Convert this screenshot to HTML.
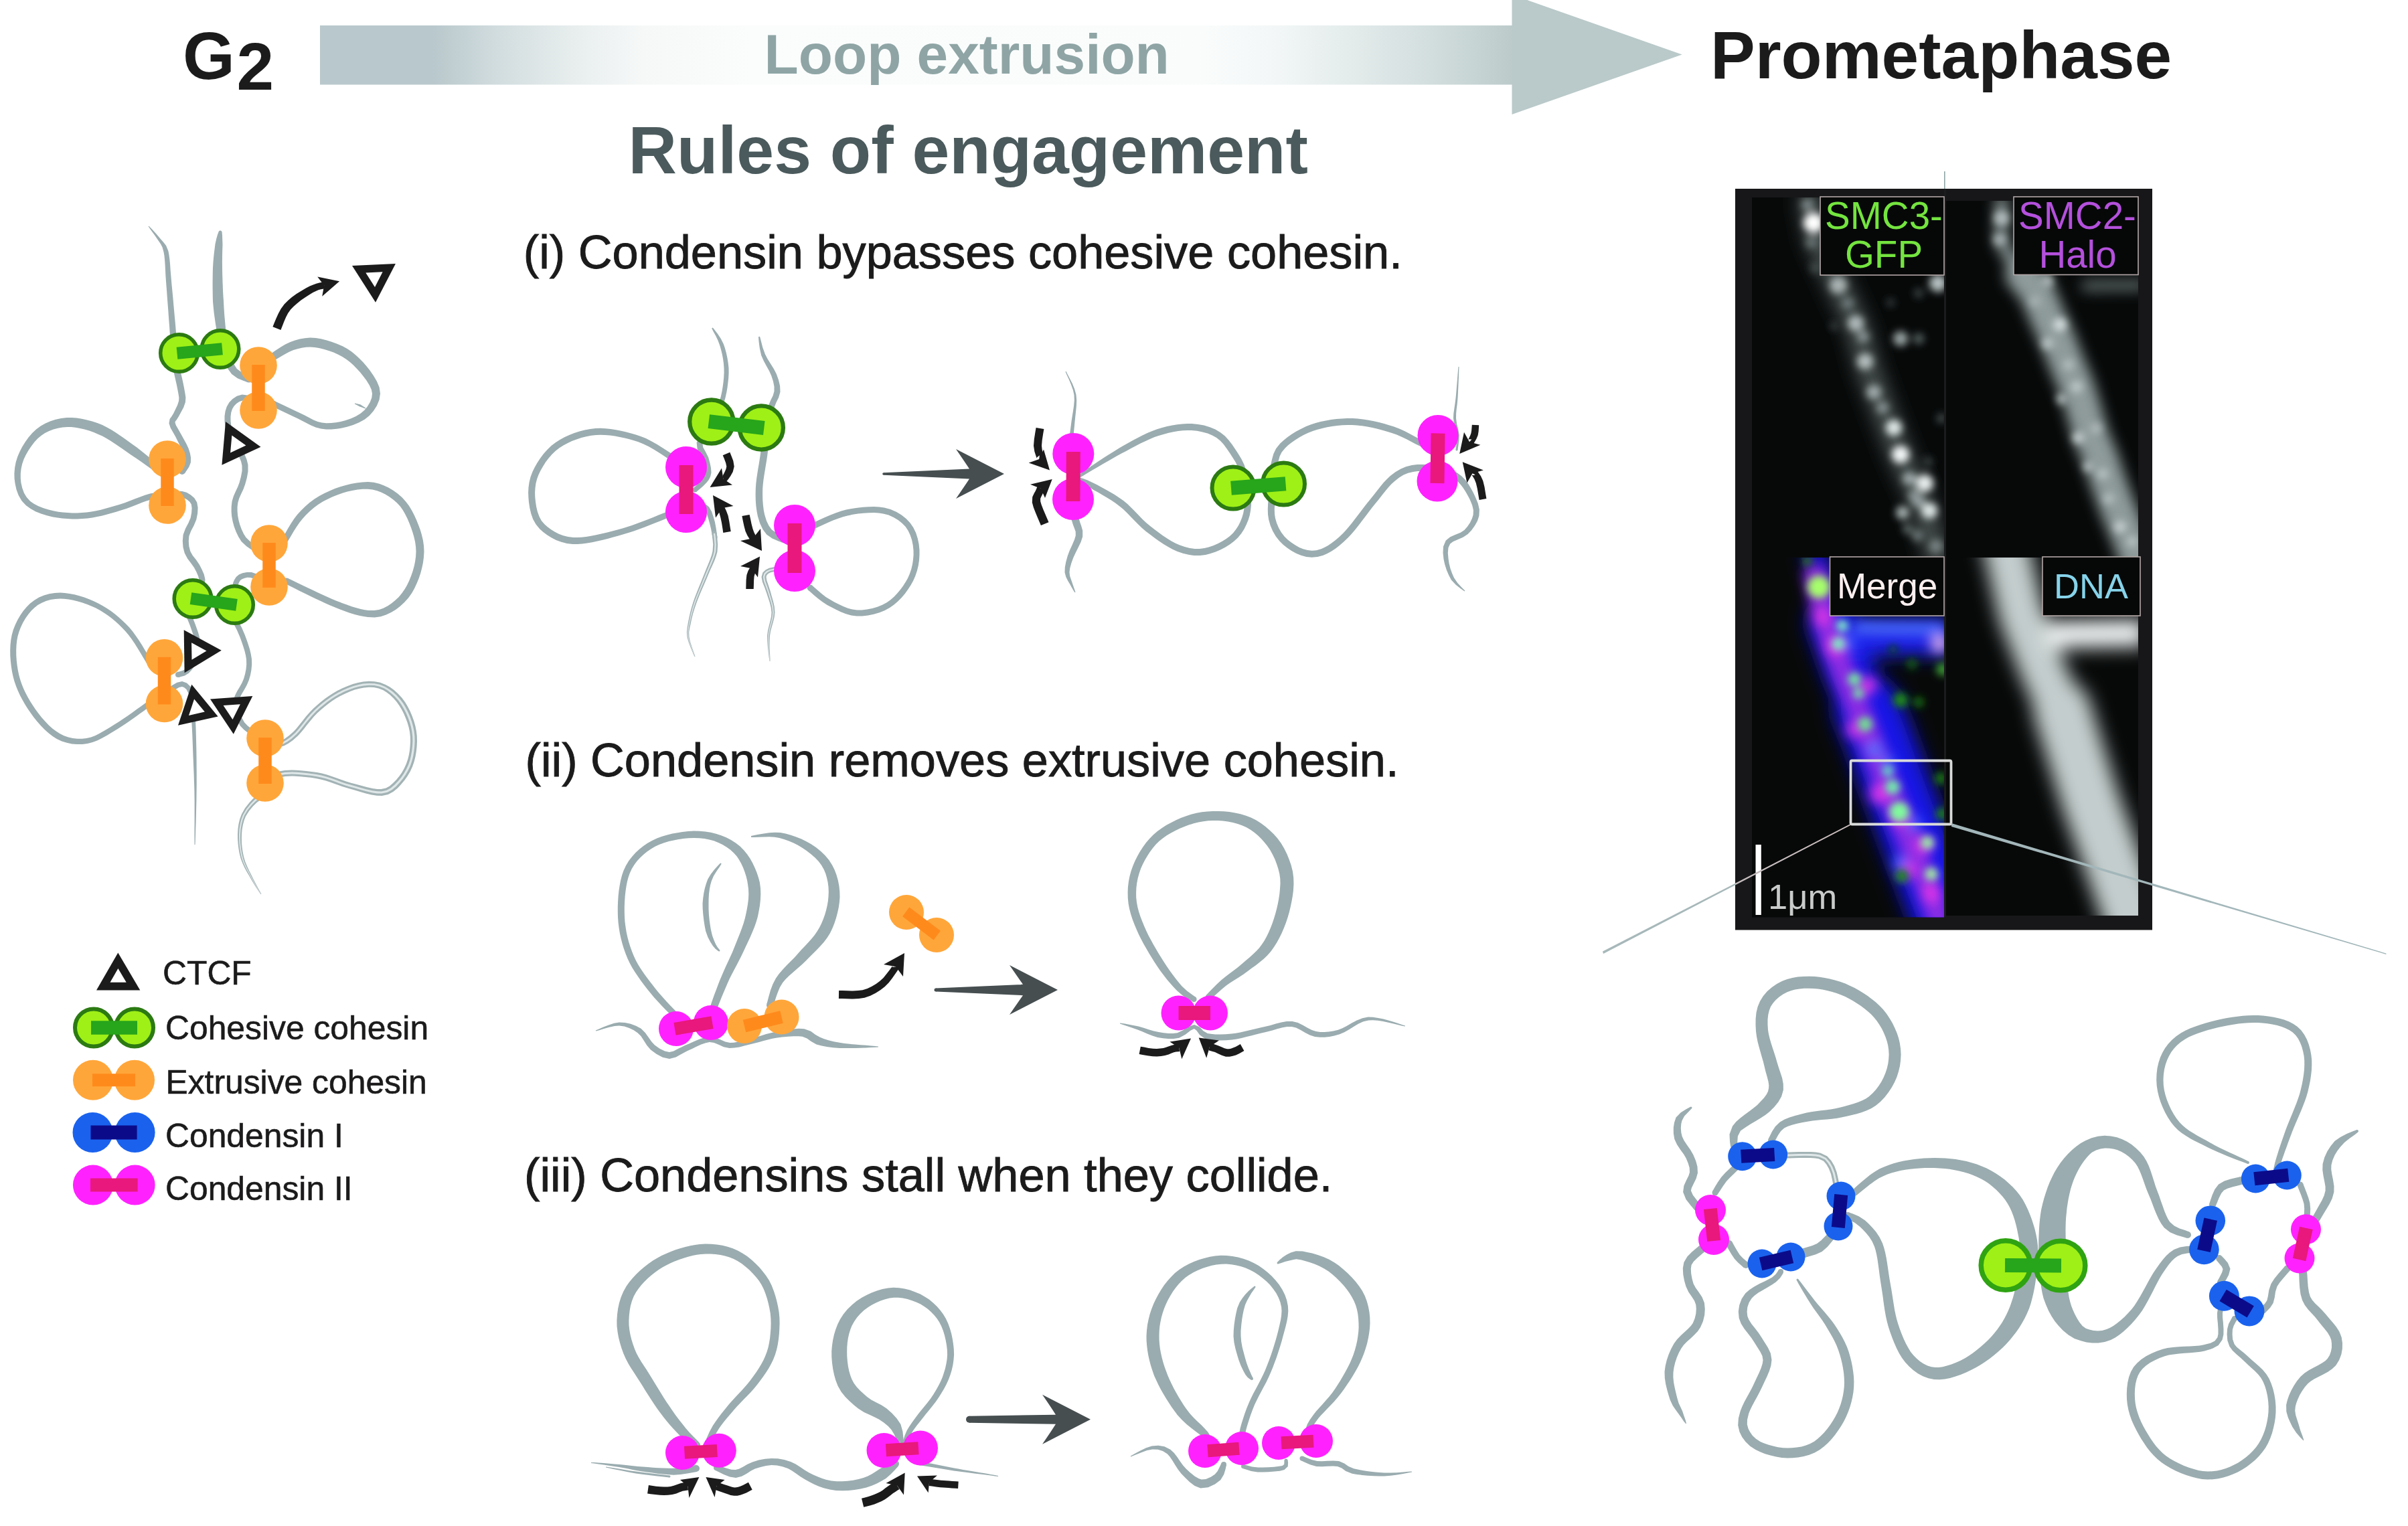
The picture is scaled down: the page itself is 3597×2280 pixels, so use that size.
<!DOCTYPE html>
<html><head><meta charset="utf-8"><title>Loop extrusion</title>
<style>html,body{margin:0;padding:0;background:#fff;overflow:hidden}svg{display:block}text{font-family:"Liberation Sans",sans-serif}</style>
</head><body>
<svg width="3597" height="2280" viewBox="0 0 3597 2280">
<rect width="3597" height="2280" fill="#fff"/>
<defs>
<linearGradient id="barg" x1="478" x2="2259" y1="0" y2="0" gradientUnits="userSpaceOnUse">
<stop offset="0" stop-color="#b9c8cc"/><stop offset="0.095" stop-color="#b9c8cc"/>
<stop offset="0.15" stop-color="#d2dddf"/><stop offset="0.21" stop-color="#e7eded"/><stop offset="0.27" stop-color="#f6f8f8"/>
<stop offset="0.36" stop-color="#fbfcfc"/><stop offset="0.742" stop-color="#fafcfc"/>
<stop offset="0.798" stop-color="#f3f7f7"/><stop offset="0.855" stop-color="#e6eded"/><stop offset="0.911" stop-color="#d8e2e2"/><stop offset="0.967" stop-color="#c8d5d5"/><stop offset="1" stop-color="#bccaca"/>
</linearGradient></defs>
<rect x="478" y="38" width="1782" height="88.5" fill="url(#barg)"/>
<polygon points="2258.5,-8 2512.6,81.4 2258.5,171" fill="#bac9c9"/>
<text x="273" y="118" font-size="100" font-weight="bold" fill="#1c1b1c" text-anchor="start" >G</text>
<text x="353.5" y="134" font-size="100" font-weight="bold" fill="#1c1b1c" text-anchor="start" >2</text>
<text x="1141.6" y="110" font-size="83.8" font-weight="bold" fill="#8fa5a5" text-anchor="start" >Loop extrusion</text>
<text x="938.6" y="259" font-size="100.4" font-weight="bold" fill="#4b5a5c" text-anchor="start" >Rules of engagement</text>
<text x="2555" y="117" font-size="100" font-weight="bold" fill="#1c1b1c" text-anchor="start" >Prometaphase</text>
<text x="781.8" y="401" font-size="70.3" font-weight="normal" fill="#1c1b1c" text-anchor="start" stroke="#1c1b1c" stroke-width="0.9">(i) Condensin bypasses cohesive cohesin.</text>
<text x="784.5" y="1160" font-size="70.3" font-weight="normal" fill="#1c1b1c" text-anchor="start" stroke="#1c1b1c" stroke-width="0.9">(ii) Condensin removes extrusive cohesin.</text>
<text x="783" y="1780" font-size="70.3" font-weight="normal" fill="#1c1b1c" text-anchor="start" stroke="#1c1b1c" stroke-width="0.9">(iii) Condensins stall when they collide.</text>
<path d="M221.6 338.3L225.6 343.9L231.3 351.7L236.4 359.2L240 364.6L242.6 369.4L244.6 376.9L245.5 382.2L246.1 388.5L246.6 395.6L247 403.4L247.4 411.7L248 420.3L248.5 427.1L249.1 434.2L249.6 441.7L250.2 449.4L250.8 457.2L251.4 465L251.9 472.8L252.5 480.4L253.1 488L253.6 495.8L254.1 503.7L254.6 511.6L255.1 519.4L255.7 526.9L256.3 534L257 540.7L258.6 550.5L260.4 559.4L262.2 567.5L263.8 574.6L265.1 580.9L266.6 589L267.4 594.3L267.1 599L265.2 605.1L262 611.8L259.1 617.8L256.5 621.9L253.6 626.1L252.5 632.5L254.7 639.3L258.4 645.7L262.1 652.2L265.7 659.4L269.5 666.9L272.3 673.8L274.1 679.7L275.1 684.9L275.1 689L273.4 693.2L270.4 697.7L267.9 701.1L276.1 706.9L278.6 703.3L282.3 697.8L284.9 691L285.1 684L283.9 677.2L281.7 670.2L278.2 662.7L273.9 655L269.9 647.8L266.2 641.3L262.9 635.5L261.5 631.5L261.9 629.6L264 626.9L266.9 622.2L270.3 616.1L274.2 608.8L276.9 601L277.4 593.9L276.4 587.3L274.9 579.1L273.6 572.6L272 565.3L270.2 557.4L268.4 548.7L267 539.3L266.1 532.9L265.4 526L264.7 518.6L264 510.9L263.4 503L262.8 495.1L262.2 487.3L261.5 479.6L260.8 472L260.1 464.3L259.4 456.4L258.7 448.6L258 441L257.3 433.5L256.6 426.4L256 419.7L255.3 411.2L254.6 402.9L254.1 395.1L253.4 387.8L252.5 381.1L251.4 375.1L248.1 366.9L244 361.7L239.6 356.8L233.7 349.8L227.1 342.6L222.4 337.7Z" fill="#9aacaf" />
<circle cx="272" cy="704" r="5" fill="#9aacaf" />
<path d="M261.8 742.5L265.7 742.6L270.8 743L275.3 744.2L279.4 746.5L283.4 749.8L285.8 753.5L286.6 759L286.1 766.2L284.7 773.7L281.5 781.2L277 789.7L273.6 799L272.8 808.5L273.5 817.7L275.8 826.6L280.2 834.8L285.7 841.9L290.1 848.3L293.5 854.8L296.2 861L297.5 866.3L297 872L295.2 878.1L293.7 882.6L302.3 885.4L303.8 880.7L305.8 873.6L306.5 865.7L304.7 858.1L301.6 850.9L297.9 843.7L293 836.6L287.8 829.9L284.2 823.4L282.4 816.2L281.8 808.5L282.4 801L285.2 793.4L289.7 785.1L293.3 776.3L295.1 767.3L295.6 758.6L294.2 750.5L290.2 743.9L284.6 739.2L278.7 735.8L272.3 734.1L266.2 733.7L262.2 733.5Z" fill="#9aacaf" />
<circle cx="262" cy="738" r="4.5" fill="#9aacaf" />
<circle cx="298" cy="884" r="4.5" fill="#9aacaf" />
<path d="M326.5 346.7L325 350.6L323.3 356.6L321.5 364.5L320.8 370.2L320 376.6L319.2 383.7L318.5 391.5L318 399.9L317.8 406.4L317.7 413.5L317.6 421L317.6 428.7L317.7 436.3L317.8 443.6L318 450.5L318.8 459.3L319.7 467.7L320.8 475.7L321.9 483.4L323.1 490.9L324.2 498.3L325.3 505.5L326.6 512.7L328.2 519.8L330.3 526.7L333.2 535.3L336.8 543.8L340.9 551.8L346.2 558.9L354.9 565.3L364 569L370.1 571.2L373.9 560.8L368 558.7L360.2 555.7L353.8 551.1L350.6 546.1L347.2 539.2L344.3 531.3L341.7 523.3L340.3 517L339.2 510.5L338.4 503.7L337.7 496.5L336.9 489.1L336.2 481.6L335.5 474L334.9 466.2L334.4 458.1L334 449.5L333.5 442.9L333.1 435.8L332.8 428.3L332.5 420.8L332.3 413.4L332.1 406.5L332 400.1L331.9 392L332 384.5L332.1 377.5L332.3 371.1L332.5 365.5L332.2 357.5L332 351.5L331.5 347.3Z" fill="#9aacaf" />
<circle cx="329" cy="347" r="2.5" fill="#9aacaf" />
<circle cx="372" cy="566" r="5.5" fill="#9aacaf" />
<path d="M386.5 595.7L380.2 593.6L371 590.7L361.7 589.5L353.9 591.8L347.5 596L342.4 601.3L338.8 607.4L336.6 614.3L335.5 621.7L335.5 629.6L336.6 638L338.8 646.5L342.4 654.6L346.8 662.2L351 670.1L354.1 676.5L357.4 683.1L360.1 689.6L361.5 695.5L361.6 703.6L360 711.9L357.7 720.7L355.3 727.2L352.1 734.1L348.8 741.4L346.6 749.1L345.7 756.7L345.6 764.2L346.2 771.6L347.6 779L349.7 786.7L352.6 794.5L356.2 802L360.6 808.9L368.3 816.3L376.7 822L382.6 825.8L387.4 818.2L381.7 814.5L373.9 809.3L367.4 803.1L364.1 797.7L360.9 791L358.3 783.9L356.4 777L355.2 770.4L354.6 763.8L354.6 757.3L355.4 750.9L357.3 744.5L360.3 737.8L363.6 730.7L366.3 723.3L368.8 713.9L370.5 704.4L370.5 694.5L368.6 686.8L365.6 679.4L362.2 672.5L359 665.9L354.7 657.8L350.4 650.5L347.2 643.5L345.4 636.3L344.5 629L344.5 622.3L345.3 616.3L347 611L349.6 606.7L353.2 602.9L357.7 599.9L362.3 598.5L369 599.4L377.4 602.1L383.5 604.3Z" fill="#9aacaf" />
<circle cx="385" cy="600" r="4.5" fill="#9aacaf" />
<circle cx="385" cy="822" r="4.5" fill="#9aacaf" />
<path d="M396.8 864.5L391.5 861.7L383.7 857.8L375.8 855.1L368.7 854.9L362.3 856.2L356.9 858.6L352.8 862L350.1 866.3L348.2 870.8L346.9 876.2L346.4 881.8L346 885.6L354 886.4L354.3 882.6L354.8 877.5L355.8 873.2L357.2 870L358.8 867.3L361.1 865.4L364.7 863.9L369.4 862.8L374.2 862.9L380.5 865.1L387.9 868.8L393.2 871.5Z" fill="#9aacaf" />
<circle cx="395" cy="868" r="4" fill="#9aacaf" />
<circle cx="350" cy="886" r="4" fill="#9aacaf" />
<path d="M408 539.6L412.3 537.1L418.2 533.4L425 529.4L431.9 525.7L438.3 523.1L444.5 521.2L450.7 519.7L456.9 518.7L463.3 518.4L470.2 519L476.5 520L483.6 521.7L491 523.9L498.3 526.6L505.2 529.7L511.4 533L517.2 536.7L522.8 541.1L528.1 545.8L533.1 550.9L537.8 556L541.8 560.9L547.3 568.3L551.8 575.4L554.8 582.1L556 588.1L555.3 594.2L552.7 600.9L548.8 607.4L544.2 613.1L538.6 617.8L531.6 621.9L523.8 625.4L515.6 628.2L508.9 629.9L501.9 631.2L494.6 632L487.5 632.2L480.8 631.6L474.5 629.9L468.3 627.4L461.8 624.1L455.1 620.5L447.9 616.9L441.4 613.9L434.1 610.5L426.8 607L419.9 603.7L414.1 600.9L409.9 598.9L406.1 607.1L410.2 609.1L416.1 611.8L422.9 615.1L430.3 618.6L437.6 622L444.1 625.1L450.9 628.5L457.7 632.1L464.5 635.5L471.6 638.5L479.2 640.4L487.1 641.4L495.1 641.4L503.1 640.8L510.9 639.5L518.4 637.8L527.4 635L536.3 631.3L544.6 626.7L551.8 620.9L557.9 614L563 606L566.6 597.2L568 587.9L566.6 578.6L562.9 569.7L557.9 561.2L552.2 553.1L547.8 547.5L542.9 541.8L537.5 536.2L531.6 530.7L525.3 525.5L518.6 521L511.3 517.1L503.5 513.7L495.4 510.7L487.3 508.2L479.4 506.3L471.8 505L463.4 504.6L455.4 505.2L447.9 506.6L440.7 508.5L433.7 510.9L426.2 514.4L418.7 518.9L411.8 523.5L406 527.6L402 530.4Z" fill="#9aacaf" />
<circle cx="405" cy="535" r="5.5" fill="#9aacaf" />
<circle cx="408" cy="603" r="4.5" fill="#9aacaf" />
<path d="M529.8 603.5L531.8 604.5L534.6 605.9L537.4 607.4L540.4 608.5L543.5 609.7L545.8 610.4L546.2 609.6L544.3 608.2L541.5 606.4L538.6 604.6L535.5 603.7L532.4 603L530.2 602.5Z" fill="#9aacaf" />
<path d="M241.1 699.1L237.3 695.7L232.1 691.1L225.8 685.8L218.8 679.9L211.4 674L204.1 668.3L198.4 664.2L192.5 659.9L186.3 655.4L179.8 650.9L173.2 646.4L166.5 642.2L159.7 638.4L153 635.1L145.4 632.1L137.7 629.6L130 627.4L122.2 625.7L114.6 624.5L107.1 624L99.7 624L91.4 625L83.2 626.8L75.4 629.3L67.9 632.6L60.8 636.6L54.3 641.3L48.2 646.9L42.6 653.4L37.6 660.4L33.1 667.8L29.4 675.1L26.3 682.2L23.7 690.5L22.1 698.9L21.4 707.2L21.6 715.2L22.6 722.8L24.6 731.7L27.8 740.3L32.6 748.4L39 755.3L45.6 760.1L53.1 764.2L61.3 767.5L70.1 770.3L79.1 772.4L85.8 773.6L93 774.5L100.3 775.1L107.9 775.4L115.5 775.4L123 775.1L130.5 774.5L137.9 773.5L145.3 772.1L152.8 770.4L160.1 768.5L167.3 766.5L174.4 764.4L181.3 762.3L189.4 759.7L197.3 756.7L205 753.7L212.3 750.8L219.4 748.3L226 746.4L234.2 744.8L242.6 743.8L250.5 743.2L257.4 742.8L262.3 742.5L261.7 733.5L256.8 733.9L249.9 734.2L241.7 734.9L232.8 735.9L224 737.6L216.6 739.7L209.2 742.4L201.7 745.3L194.1 748.3L186.4 751.2L178.7 753.7L171.8 755.7L164.8 757.8L157.7 759.8L150.6 761.7L143.5 763.3L136.5 764.6L129.5 765.5L122.5 766.1L115.3 766.4L108 766.4L100.9 766.1L93.9 765.5L87.2 764.7L80.9 763.6L72.5 761.6L64.4 759L56.9 756L50.3 752.5L45 748.7L39.8 743L35.9 736.4L33.2 729.1L31.4 721.2L30.8 714.6L30.8 707.6L31.6 700.3L33.2 693L35.7 685.8L38.6 679.7L42.3 673.2L46.7 666.7L51.4 660.5L56.5 655.1L61.7 650.7L67.2 647.1L73.3 644.1L79.8 641.6L86.5 639.7L93.4 638.5L100.3 638L106.4 638.1L112.8 638.7L119.5 639.9L126.3 641.5L133.3 643.6L140.2 646.1L147 648.9L152.9 651.6L159.1 655L165.3 658.8L171.7 662.9L178 667.2L184.2 671.5L190.2 675.8L195.9 679.7L203.5 684.7L211.1 690L218.4 695.2L225.1 700L230.7 704.1L234.9 706.9Z" fill="#9aacaf" />
<circle cx="238" cy="703" r="5" fill="#9aacaf" />
<circle cx="262" cy="738" r="4.5" fill="#9aacaf" />
<path d="M428.9 810.3L431.4 806.3L434.7 800.7L438.6 794.1L442.9 787.3L447.4 780.8L451.8 775.2L457.2 769.3L462.9 763.8L469 758.6L475.4 753.7L482.5 749.3L489 745.9L496.2 742.6L503.8 739.5L511.4 736.8L518.9 734.6L526 732.9L534.1 731.6L541.9 730.8L549.3 730.7L556.4 731.5L563.4 733.3L569.3 735.5L575.5 738.5L581.6 742.2L587.4 746.4L592.9 751.2L597.8 756.5L601.5 761.7L605 767.8L608.4 774.4L611.4 781.4L614.1 788.5L616.4 795.3L618.2 801.5L620.1 809.5L621.1 816.9L621.5 824.1L621.1 831.4L620.1 839L618.7 845.8L616.7 852.9L614.2 860.2L611.4 867.3L608.2 874L604.9 879.8L600.6 886.1L595.7 891.9L590.3 897.1L584.8 901.6L579.3 905.2L572.6 908.7L566.2 911L559.1 912.1L550.4 912L544.8 911.3L538.8 910L532.4 908.3L525.5 906.2L518.1 903.6L510.2 900.7L501.9 897.4L496 894.9L489.3 892L482.1 888.8L474.5 885.3L466.8 881.6L459.2 878L451.9 874.5L445.1 871.2L439 868.2L433.9 865.8L429.9 863.9L426.1 872.1L429.9 874L435 876.5L441 879.5L447.7 882.9L455 886.5L462.6 890.2L470.3 894L478 897.6L485.3 901L492 904L498.1 906.6L506.7 910L514.7 913L522.3 915.7L529.6 917.9L536.5 919.7L543.1 921.1L549.6 922L559.6 922.4L568.6 921.2L576.8 918.6L584.7 914.8L591.3 910.7L597.8 905.7L604 899.9L609.9 893.4L615.1 886.2L618.9 879.5L622.4 872.1L625.5 864.4L628.2 856.5L630.3 848.6L631.9 841L633 832.5L633.5 824.1L633.1 815.8L631.9 807.3L629.8 798.5L627.7 791.6L625.1 784.4L622.1 777L618.7 769.5L614.9 762.3L610.8 755.5L606.2 749.5L600.6 743.3L594.3 737.8L587.7 733L580.7 728.8L573.7 725.4L566.6 722.7L558.2 720.8L549.6 720.1L541.1 720.4L532.6 721.5L524 723.1L516.3 724.9L508.3 727.3L500.2 730.1L492.2 733.4L484.6 736.9L477.5 740.7L469.8 745.5L462.7 750.7L456.1 756.4L450 762.4L444.2 768.8L439.4 775L434.8 782.1L430.4 789.2L426.6 796L423.4 801.7L421.1 805.7Z" fill="#9aacaf" />
<circle cx="425" cy="808" r="4.5" fill="#9aacaf" />
<circle cx="428" cy="868" r="4.5" fill="#9aacaf" />
<path d="M225.4 985.9L223 982.1L220 977L216.3 970.9L212.2 964.1L207.7 957L202.9 949.9L198 943.2L193 937.3L187.9 932L182.6 926.9L177.1 922L171.4 917.3L165.5 912.8L159.4 908.7L153.2 904.9L146.8 901.4L140.1 898.2L133.1 895.3L125.9 892.6L118.5 890.3L111.1 888.3L103.8 886.9L96.7 885.9L90 885.5L81.6 885.9L73.5 887.3L65.7 889.5L58.3 892.6L51.4 896.7L45.1 901.6L39.9 906.7L35 912.5L30.5 919L26.4 926L22.8 933.4L19.8 941.1L17.6 949L16.3 956.2L15.5 963.8L15.2 971.7L15.3 979.7L15.9 987.8L16.8 995.8L18 1003.6L19.6 1011.1L21.6 1018.3L24.1 1025.5L27 1032.5L30.2 1039.4L33.7 1046L37.4 1052.5L41.3 1058.7L45.3 1064.6L50.1 1071.2L55.3 1077.7L60.8 1083.9L66.6 1089.9L72.5 1095.3L78.6 1100L84.8 1103.9L92.2 1107.4L99.8 1109.8L107.5 1111.4L115.3 1112.1L123 1111.9L130.7 1110.9L138.3 1109.1L145.7 1106.2L153 1102.6L160.3 1098.4L167.6 1094L175.1 1089.4L181.3 1085.5L188.2 1080.9L195.4 1076L202.5 1070.9L209.3 1066.1L215.4 1061.7L220.5 1058L224.3 1055.3L219.7 1048.7L215.8 1051.5L210.7 1055.2L204.6 1059.6L197.9 1064.4L190.8 1069.4L183.7 1074.3L177 1078.8L170.9 1082.6L163.4 1087.2L156.2 1091.6L149.2 1095.5L142.5 1098.9L135.9 1101.5L129.3 1103.1L122.5 1103.7L115.7 1103.7L108.8 1103L102.1 1101.5L95.5 1099.2L89.2 1096.1L83.8 1092.6L78.3 1088.4L72.8 1083.4L67.4 1077.8L62.2 1071.9L57.3 1065.7L52.7 1059.4L48.9 1053.8L45.2 1047.9L41.6 1041.7L38.3 1035.4L35.2 1028.9L32.5 1022.3L30.2 1015.6L28.4 1008.9L26.9 1002L25.7 994.6L24.8 987L24.3 979.4L24.2 971.8L24.5 964.5L25.2 957.5L26.4 951L28.4 943.9L31.1 937L34.3 930.2L38.1 923.8L42.2 918L46.5 912.8L50.9 908.4L56.4 904.1L62.4 900.7L68.7 898L75.4 896.1L82.5 894.9L90 894.5L95.9 894.7L102.4 895.5L109.2 896.8L116.2 898.5L123.2 900.6L130.2 903L136.9 905.7L143.2 908.6L149.2 911.8L155.1 915.4L160.8 919.3L166.5 923.6L171.9 928.1L177.2 932.8L182.2 937.7L187 942.7L191.7 948.2L196.4 954.5L201 961.3L205.4 968.3L209.5 975L213.1 981.1L216.2 986.3L218.6 990.1Z" fill="#9aacaf" />
<circle cx="222" cy="988" r="4" fill="#9aacaf" />
<circle cx="222" cy="1052" r="4" fill="#9aacaf" />
<path d="M412.1 1116.5L414.8 1116.4L419.3 1116L424.9 1114.1L430.8 1110.8L437.5 1106.1L445.1 1099.2L449.6 1094.3L454.2 1088.7L459 1082.5L464 1076.4L469 1070.5L474.1 1065.2L479.4 1060.4L485 1055.8L490.7 1051.3L496.5 1047.1L502.3 1043.3L508.1 1040L515.3 1036.4L522.6 1033.2L529.9 1030.6L537 1028.7L543.6 1027.5L551.4 1026.8L558.6 1027.1L565.4 1028.4L572.1 1031.1L577.3 1034.2L582.6 1038.3L587.8 1043.2L592.6 1048.7L596.8 1054.8L600.1 1060.3L603.3 1066.5L606.2 1073.2L608.7 1080.1L610.7 1087.1L612.1 1093.8L612.8 1100.5L613 1107.5L612.6 1114.7L611.9 1121.7L610.7 1128.4L609.2 1134.6L606.8 1141.5L603.8 1148.1L600.3 1154.2L596.4 1159.8L592.3 1164.7L587.1 1170.1L582 1174.5L576.5 1177.5L569.4 1179L563.8 1179L556.6 1178L548.7 1176.3L540.4 1174.1L532.1 1171.8L524.3 1169.7L517 1167.5L509.9 1165.1L502.9 1162.5L495.7 1159.9L488.4 1157.5L481 1155.6L473.3 1154.1L465.3 1152.9L457.3 1152L449.6 1151.3L442.4 1150.8L435.9 1150.5L425.2 1151L416.7 1152.5L411.1 1153.6L412.9 1162.4L418.3 1161.4L426.1 1160L436.1 1159.5L441.9 1159.8L448.9 1160.2L456.3 1160.9L464.1 1161.8L471.7 1163L479 1164.4L485.9 1166.2L492.8 1168.4L499.8 1170.9L506.9 1173.5L514.2 1176.1L521.7 1178.3L529.6 1180.6L537.9 1183.1L546.4 1185.5L554.8 1187.5L562.9 1188.8L570.6 1189L579.9 1186.9L587.6 1182.8L594 1177.4L599.7 1171.3L604.3 1165.8L608.7 1159.6L612.7 1152.7L616.1 1145.2L618.8 1137.4L620.5 1130.5L621.8 1123.1L622.6 1115.4L623 1107.6L622.8 1099.8L621.9 1092.2L620.4 1084.7L618.2 1077.1L615.5 1069.5L612.4 1062.3L608.9 1055.5L605.2 1049.2L600.2 1042.6L594.6 1036.5L588.6 1031.1L582.4 1026.6L575.9 1022.9L567.9 1019.8L559.7 1018.2L551.2 1017.8L542.4 1018.5L534.9 1019.9L527.2 1022.1L519.3 1024.9L511.5 1028.2L503.9 1032L497.6 1035.7L491.4 1039.7L485.3 1044.1L479.3 1048.8L473.5 1053.7L467.9 1058.8L462.4 1064.4L457.1 1070.6L452 1077L447.2 1083L442.8 1088.5L438.9 1092.8L431.8 1099.1L426 1103.2L421.1 1105.9L417.3 1107.2L414.3 1107.4L411.9 1107.5Z" fill="#a3b3b5" />
<circle cx="412" cy="1112" r="4.5" fill="#a3b3b5" />
<circle cx="412" cy="1158" r="4.5" fill="#a3b3b5" />
<path d="M412 1113.4L414.6 1113.4L418.7 1113L423.6 1111.3L429.1 1108.2L435.5 1103.7L443 1097L447.3 1092.3L451.8 1086.8L456.6 1080.6L461.6 1074.4L466.8 1068.4L472 1063L477.4 1058.1L483.1 1053.4L488.9 1048.8L494.8 1044.6L500.7 1040.7L506.7 1037.3L514 1033.6L521.5 1030.4L529 1027.7L536.3 1025.7L543.2 1024.4L551.3 1023.8L559 1024.1L566.3 1025.5L573.4 1028.3L579 1031.6L584.7 1035.9L590.1 1040.9L595.1 1046.6L599.7 1052.9L603.1 1058.7L606.4 1065.1L609.4 1072L612 1079.1L614 1086.2L615.4 1093.2L616.2 1100.3L616.4 1107.6L616 1114.9L615.2 1122.2L614 1129.1L612.5 1135.5L610 1142.8L606.8 1149.6L603.1 1156L599.1 1161.8L594.8 1166.9L589.5 1172.6L583.9 1177.3L577.6 1180.7L569.8 1182.4L563.5 1182.3L556 1181.2L547.9 1179.4L539.6 1177.2L531.2 1174.8L523.4 1172.6L516.1 1170.4L508.9 1167.9L501.8 1165.3L494.7 1162.8L487.6 1160.5L480.3 1158.6L472.7 1157.1L464.9 1155.9L457 1155L449.3 1154.3L442.3 1153.8L436 1153.6L425.5 1154.1L417.2 1155.5L411.7 1156.6L412.3 1159.4L417.7 1158.3L425.8 1157L436 1156.4L442.1 1156.7L449.1 1157.2L456.7 1157.9L464.5 1158.8L472.2 1160L479.7 1161.4L486.8 1163.2L493.8 1165.5L500.8 1168L507.9 1170.7L515.2 1173.2L522.6 1175.4L530.4 1177.6L538.7 1180L547.2 1182.3L555.5 1184.3L563.2 1185.5L570.2 1185.6L578.7 1183.7L585.7 1179.9L591.7 1174.9L597.2 1169.1L601.6 1163.8L605.8 1157.7L609.7 1151.1L613 1144L615.5 1136.5L617.2 1129.8L618.4 1122.6L619.2 1115.2L619.6 1107.6L619.4 1100.1L618.6 1092.8L617.1 1085.5L615 1078.1L612.4 1070.8L609.3 1063.7L605.9 1057.1L602.3 1051.1L597.6 1044.7L592.3 1038.8L586.6 1033.6L580.6 1029.2L574.6 1025.7L567.1 1022.7L559.3 1021.2L551.2 1020.9L542.8 1021.6L535.6 1022.9L528.1 1025L520.4 1027.7L512.8 1031L505.3 1034.7L499.2 1038.3L493.1 1042.2L487.1 1046.5L481.2 1051.1L475.5 1056L470 1061L464.6 1066.5L459.4 1072.6L454.4 1078.9L449.6 1085L445.1 1090.5L441 1095L433.7 1101.5L427.6 1105.7L422.4 1108.7L418 1110.2L414.5 1110.5L412 1110.6Z" fill="#dfe7e8" />
<circle cx="412" cy="1112" r="1.4" fill="#dfe7e8" />
<circle cx="412" cy="1158" r="1.4" fill="#dfe7e8" />
<path d="M346.5 926.8L349.6 932.9L354.1 941.7L358.3 951.5L360.6 957.8L363 964.8L365.3 972L367 979L368 985.3L368.2 992.8L367.5 1000L366.1 1007L364.2 1013.7L361.6 1020.1L358 1026.4L354.3 1032.6L351.3 1038.4L349 1044.4L347.7 1050L348 1056.6L350.1 1065.4L353.6 1075.2L358.8 1084.4L364.7 1090.5L371.8 1095.9L378.3 1100.3L382.7 1103.3L387.3 1096.7L382.8 1093.6L376.5 1089.4L370 1084.5L365.2 1079.6L360.9 1071.9L357.7 1063.1L356 1055.4L355.7 1050.6L356.6 1046.9L358.7 1041.6L361.3 1036.4L364.9 1030.4L368.7 1023.6L371.8 1016.3L373.9 1008.9L375.4 1001.2L376.2 993.1L376 984.7L374.8 977.4L373 969.8L370.6 962.3L368.1 955.1L365.7 948.5L361.3 938.3L356.7 929.3L353.5 923.2Z" fill="#9aacaf" />
<circle cx="350" cy="925" r="4" fill="#9aacaf" />
<circle cx="385" cy="1100" r="4" fill="#9aacaf" />
<path d="M279.3 923.5L281.2 928.1L283.8 934.6L286.2 941.3L288.3 947.5L290.2 953.7L291 960.1L290.7 967.8L289.3 976.2L287.3 983.6L284.2 990L280.2 995.8L276.4 999.9L272.7 1002.1L268.4 1003.3L265.1 1004.1L266.9 1011.9L270.4 1011.1L275.9 1009.5L281.6 1006.1L286.5 1000.7L291.1 994L294.7 986.4L297.2 977.8L298.6 968.6L299 959.9L298 952.1L296 945.1L293.8 938.7L291.3 931.8L288.6 925.1L286.7 920.5Z" fill="#9aacaf" />
<circle cx="283" cy="922" r="4" fill="#9aacaf" />
<circle cx="266" cy="1008" r="4" fill="#9aacaf" />
<path d="M257.1 1033.4L261.6 1030.6L267.5 1027.1L271.9 1026L274.9 1027L278.5 1030L281.7 1036.2L283.1 1041.6L284.1 1048.7L284.8 1056.8L285.4 1065.8L286 1075.2L286.5 1082.2L286.9 1089.6L287.3 1097.4L287.6 1105.4L287.9 1113.6L288.2 1121.8L288.5 1130.1L288.8 1137.2L289.1 1144.4L289.4 1151.7L289.7 1159L289.9 1166.4L290.2 1174.1L290.4 1181.9L290.5 1190L290.6 1197L290.6 1204.8L290.6 1213L290.6 1221.4L290.6 1229.7L290.5 1237.8L290.5 1245.3L290.5 1252L290.5 1257.7L290.5 1262L291.5 1262L291.7 1257.7L291.9 1252L292.1 1245.3L292.3 1237.8L292.6 1229.8L292.8 1221.4L293 1213L293.2 1204.8L293.4 1197L293.5 1190L293.6 1181.9L293.7 1174L293.7 1166.4L293.7 1158.9L293.7 1151.6L293.6 1144.3L293.6 1137.1L293.5 1129.9L293.4 1121.7L293.2 1113.4L293 1105.2L292.8 1097.2L292.6 1089.4L292.3 1081.9L292 1074.8L291.6 1065.4L291.2 1056.4L290.6 1048L289.8 1040.4L288.3 1033.8L284.5 1025.8L279 1020.5L272.1 1018L264.5 1019.7L257.5 1023.7L252.9 1026.6Z" fill="#9aacaf" />
<circle cx="255" cy="1030" r="4" fill="#9aacaf" />
<path d="M393.4 1184.3L389.8 1185.9L384.3 1188.6L378.3 1193L372.3 1199.5L366 1207.5L360.9 1216.4L358.3 1223.6L356.5 1231L355.4 1238.8L355 1246.9L355.1 1253.7L355.6 1260.9L356.5 1268.3L357.8 1275.6L359.6 1282.7L362.2 1289.6L365.4 1296.4L368.9 1302.9L372.5 1309.1L375.7 1314.7L381 1323.5L386 1331.1L389.6 1336.3L390.4 1335.7L387.4 1330.2L383 1322.3L378.3 1313.3L375.5 1307.5L372.3 1301.2L369.2 1294.6L366.5 1287.9L364.4 1281.3L362.9 1274.6L361.8 1267.6L361.1 1260.5L360.9 1253.6L361 1247.1L361.6 1239.5L362.9 1232.3L364.7 1225.6L367.1 1219.6L372 1211.7L378 1204.6L383.7 1199L388.5 1195.4L393.2 1193.2L396.6 1191.7Z" fill="#a3b3b5" />
<circle cx="395" cy="1188" r="4" fill="#a3b3b5" />
<path d="M394.5 1186.8L390.9 1188.4L385.7 1190.9L380.1 1195L374.2 1201.2L368 1209L363 1217.5L360.5 1224.3L358.7 1231.5L357.5 1239.1L357 1247L357.1 1253.7L357.5 1260.8L358.3 1268L359.5 1275.3L361.2 1282.2L363.6 1289L366.7 1295.8L370.1 1302.3L373.5 1308.5L376.6 1314.2L381.6 1323.1L386.5 1330.8L389.9 1336.1L390.1 1335.9L386.9 1330.5L382.3 1322.7L377.4 1313.8L374.4 1308L371.2 1301.8L367.9 1295.2L365 1288.5L362.8 1281.8L361.2 1274.9L360 1267.8L359.2 1260.6L358.9 1253.6L359 1247L359.5 1239.3L360.7 1231.9L362.5 1224.9L365 1218.5L369.9 1210.3L376.1 1202.8L381.9 1197L387.1 1193.1L392 1190.7L395.5 1189.2Z" fill="#dfe7e8" />
<circle cx="395" cy="1188" r="1.3" fill="#dfe7e8" />
<circle cx="267.5" cy="527.5" r="27.8" fill="#9ff016" stroke="#2b7a12" stroke-width="5.5"/>
<circle cx="329" cy="521.5" r="27.8" fill="#9ff016" stroke="#2b7a12" stroke-width="5.5"/>
<path d="M264.5 527.8L332 521.2" stroke="#27a51b" stroke-width="18" fill="none"/>
<circle cx="288" cy="894.5" r="27.8" fill="#9ff016" stroke="#2b7a12" stroke-width="5.5"/>
<circle cx="350.5" cy="903.5" r="27.8" fill="#9ff016" stroke="#2b7a12" stroke-width="5.5"/>
<path d="M285 894.1L353.5 903.9" stroke="#27a51b" stroke-width="18" fill="none"/>
<circle cx="386" cy="546" r="27.8" fill="#ffa63a"/>
<circle cx="386" cy="613" r="27.8" fill="#ffa63a"/>
<path d="M386 545L386 614" stroke="#ff8a1c" stroke-width="19.5" fill="none"/>
<circle cx="250" cy="686" r="27.8" fill="#ffa63a"/>
<circle cx="250" cy="755" r="27.8" fill="#ffa63a"/>
<path d="M250 685L250 756" stroke="#ff8a1c" stroke-width="19.5" fill="none"/>
<circle cx="402" cy="812" r="27.8" fill="#ffa63a"/>
<circle cx="402" cy="877" r="27.8" fill="#ffa63a"/>
<path d="M402 811L402 878" stroke="#ff8a1c" stroke-width="19.5" fill="none"/>
<circle cx="245.5" cy="982.8" r="27.8" fill="#ffa63a"/>
<circle cx="245.5" cy="1051.5" r="27.8" fill="#ffa63a"/>
<path d="M245.5 981.8L245.5 1052.5" stroke="#ff8a1c" stroke-width="19.5" fill="none"/>
<circle cx="396" cy="1103" r="27.8" fill="#ffa63a"/>
<circle cx="396" cy="1170" r="27.8" fill="#ffa63a"/>
<path d="M396 1102L396 1171" stroke="#ff8a1c" stroke-width="19.5" fill="none"/>
<polygon points="526,396.9 590.9,393.9 561,451.8" fill="#1c1b1c"/>
<polygon points="546.3,407.5 571.6,406.3 560,428.9" fill="#fff"/>
<polygon points="337,630 389.5,667.7 331.4,694.8" fill="#1c1b1c"/>
<polygon points="346.4,650.5 367.4,665.6 344.1,676.4" fill="#fff"/>
<polygon points="274.7,941.3 330.8,971.8 275.6,1005.2" fill="#1c1b1c"/>
<polygon points="286.1,960.2 308.5,972.4 286.5,985.7" fill="#fff"/>
<polygon points="286.3,1022.7 325.6,1070.6 266,1083.7" fill="#1c1b1c"/>
<polygon points="290.1,1044.5 305.8,1063.6 282,1068.9" fill="#fff"/>
<polygon points="314,1044.5 377.3,1040 348.8,1096.8" fill="#1c1b1c"/>
<polygon points="333.6,1054.1 358.9,1052.3 347.5,1075" fill="#fff"/>
<path d="M419.4 493L421.4 488.1L424.1 481.1L427.2 473.8L430.2 468L434.1 462.6L438.5 458L443.6 453.5L449.7 448.6L456.4 444L462.6 440.1L467.5 437.1L471.8 434.9L475.6 433.2L479.2 432.2L482.5 431.7L484.9 431.3L483.4 421.4L480.9 421.8L477 422.5L472.4 423.8L467.7 425.4L462.7 427.6L457 430.5L450.3 434.4L442.9 439.1L436 444.1L430.2 449.1L424.7 454.6L419.6 461.4L415.8 468.4L412.3 476.2L409.4 483.3L407.4 488.2Z" fill="#1c1b1c" />
<polygon points="474.2,413.4 507.1,420.3 481.2,442.8 484.2,426.4" fill="#1c1b1c"/>
<polygon points="176.3,1423.5 144,1479.5 209.3,1479.5" fill="#1c1b1c"/>
<polygon points="176.4,1447 164.5,1467.7 188.7,1467.7" fill="#fff"/>
<circle cx="140" cy="1535.5" r="28" fill="#9ff016" stroke="#2b7a12" stroke-width="6"/>
<circle cx="201" cy="1535.5" r="28" fill="#9ff016" stroke="#2b7a12" stroke-width="6"/>
<path d="M136 1535.5L205 1535.5" stroke="#27a51b" stroke-width="20.5" fill="none"/>
<circle cx="139" cy="1613.7" r="30" fill="#ffa63a"/>
<circle cx="201" cy="1613.7" r="30" fill="#ffa63a"/>
<path d="M138 1613.7L202 1613.7" stroke="#ff8a1c" stroke-width="19" fill="none"/>
<circle cx="138.5" cy="1692" r="30" fill="#1a62ee"/>
<circle cx="201.6" cy="1692" r="30" fill="#1a62ee"/>
<path d="M135.5 1692L204.6 1692" stroke="#0b0b8a" stroke-width="21" fill="none"/>
<circle cx="139" cy="1770.6" r="30" fill="#ff22ff"/>
<circle cx="201.6" cy="1770.6" r="30" fill="#ff22ff"/>
<path d="M135 1770.6L205.6 1770.6" stroke="#e8187c" stroke-width="20" fill="none"/>
<text x="243" y="1470.5" font-size="49.8" font-weight="normal" fill="#1c1b1c" text-anchor="start" stroke="#1c1b1c" stroke-width="0.6">CTCF</text>
<text x="247" y="1553" font-size="49.8" font-weight="normal" fill="#1c1b1c" text-anchor="start" stroke="#1c1b1c" stroke-width="0.6">Cohesive cohesin</text>
<text x="247.5" y="1633.5" font-size="49.8" font-weight="normal" fill="#1c1b1c" text-anchor="start" stroke="#1c1b1c" stroke-width="0.6">Extrusive cohesin</text>
<text x="247" y="1714" font-size="49.8" font-weight="normal" fill="#1c1b1c" text-anchor="start" stroke="#1c1b1c" stroke-width="0.6">Condensin I</text>
<text x="247" y="1792.5" font-size="49.8" font-weight="normal" fill="#1c1b1c" text-anchor="start" stroke="#1c1b1c" stroke-width="0.6">Condensin II</text>
<path d="M1063.2 490.5L1065.4 495.1L1068.9 501.3L1072.4 508.6L1075.2 516.1L1077 522.2L1078.7 529L1080 536.1L1081 543.2L1081.5 550.2L1081.6 557.1L1081.2 564.2L1080.5 571.3L1079.6 578.1L1078.6 584.3L1076.7 593L1074.3 600.6L1071.6 609L1069.6 616.5L1067.7 624.2L1065.5 631.6L1062.6 637.9L1058 643.1L1051.6 648.2L1045.1 653.7L1040.6 661.2L1041.7 671.1L1046.3 679.5L1049.8 686.6L1051.7 693.5L1053.1 700.3L1053.5 705.8L1052.9 709.5L1051.4 712.8L1049 716.4L1044.8 721L1039.5 725.9L1035.7 729.3L1040.3 734.7L1044.3 731.4L1050.1 726.6L1055 721.6L1058.5 717.2L1061.1 712.3L1062.5 706.2L1062 699L1060.4 691.4L1058.2 683.4L1054.2 675.4L1050.2 668.2L1049.4 662.8L1051.7 659.5L1057.1 654.7L1063.8 649L1069.4 642.1L1072.8 634.3L1075 626.1L1076.7 618.2L1078.4 611L1081 602.7L1083.4 594.8L1085.4 585.7L1086.5 579.2L1087.4 572.1L1088.2 564.8L1088.6 557.2L1088.5 549.8L1087.7 542.4L1086.5 534.9L1084.9 527.6L1083 520.5L1080.8 513.9L1076.9 506.3L1072.3 499.3L1067.9 493.5L1064.8 489.5Z" fill="#9aacaf" />
<circle cx="1038" cy="732" r="3.5" fill="#9aacaf" />
<path d="M1038.5 753.1L1042.8 755.4L1048.5 758.7L1052.9 762.5L1055.7 767.8L1058.1 774.7L1060.1 782L1062 789.8L1063.5 797.8L1064.5 803.5L1071.5 802.5L1070.7 796.7L1069.5 788.4L1067.9 780L1065.7 772.3L1063.1 764.5L1059.1 757.5L1052.8 752.3L1046.1 748.9L1041.5 746.9Z" fill="#9aacaf" />
<circle cx="1040" cy="750" r="3.5" fill="#9aacaf" />
<circle cx="1068" cy="803" r="3.5" fill="#9aacaf" />
<path d="M1063.5 797.4L1064.3 804.1L1065.2 813.5L1064.5 823.5L1063.1 829.2L1060.9 835.5L1058.2 842.2L1055.2 849.4L1052.2 856.9L1049.6 863.6L1046.7 870.8L1043.6 878.2L1040.7 885.6L1037.9 892.7L1035.6 899.2L1033 907.8L1030.9 915.7L1029.3 922.9L1028 929.6L1026.6 937.4L1025.9 944.4L1026.5 952.2L1028.7 959.8L1031.9 968.2L1035.2 975.9L1037.5 981.2L1038.5 980.8L1036.6 975.4L1033.8 967.5L1031.1 959.1L1029.5 951.8L1029.2 944.5L1030.3 938L1032 930.4L1033.4 923.8L1035.2 916.8L1037.5 909.2L1040.4 900.8L1042.8 894.5L1045.6 887.6L1048.7 880.3L1051.9 872.9L1055 865.8L1057.8 859.1L1060.9 851.8L1064.1 844.7L1067.1 837.9L1069.6 831.2L1071.5 824.5L1072.2 813.4L1071.3 803.4L1070.5 796.6Z" fill="#a3b3b5" />
<circle cx="1067" cy="797" r="3.5" fill="#a3b3b5" />
<path d="M1065.9 797.1L1066.7 803.9L1067.5 813.5L1066.9 823.8L1065.3 829.9L1063 836.3L1060.2 843.1L1057.2 850.2L1054.1 857.6L1051.4 864.3L1048.5 871.5L1045.4 878.9L1042.4 886.3L1039.6 893.3L1037.2 899.7L1034.5 908.3L1032.4 916.1L1030.7 923.2L1029.4 929.9L1027.9 937.6L1027 944.4L1027.5 952.1L1029.5 959.6L1032.6 968L1035.7 975.7L1037.9 981.1L1038.1 980.9L1036.1 975.5L1033.2 967.8L1030.3 959.3L1028.5 951.9L1028.1 944.5L1029 937.8L1030.6 930.1L1032 923.5L1033.8 916.4L1036 908.8L1038.8 900.3L1041.1 893.9L1043.9 886.9L1047 879.6L1050.1 872.2L1053.2 865L1055.9 858.4L1059 851L1062.1 843.9L1065 837.1L1067.4 830.6L1069.1 824.2L1069.8 813.5L1068.9 803.6L1068.1 796.9Z" fill="#dfe7e8" />
<path d="M1133 503.2L1133.5 510.2L1134.8 520.3L1137.2 531L1140.7 538.9L1145 546.9L1149.2 554.5L1152.3 561.5L1155 569.9L1156.5 577.5L1156.5 584.5L1154.7 590.9L1151.2 597.9L1147.7 606.6L1145.7 614.2L1144.1 622.1L1142.5 630.5L1141.1 639.3L1140 646.7L1139 654.3L1138 662.3L1137 670.6L1135.8 679.3L1134.8 685.9L1133.7 693L1132.4 700.4L1131.2 708L1130.1 715.5L1129.3 722.8L1128.8 729.8L1128.6 738.9L1128.8 747.7L1129.4 756.1L1130.5 764L1131.9 771.3L1135.1 781.8L1139.5 791L1145.3 798.8L1153.6 804.6L1162.2 808.3L1168.1 810.6L1171.9 801.4L1166.2 799L1158.7 795.6L1152.7 791.2L1148.5 785.6L1144.9 778.1L1142.1 768.7L1140.8 762.3L1139.9 755L1139.3 747.2L1139.1 738.9L1139.2 730.2L1139.7 723.8L1140.5 716.8L1141.6 709.5L1142.8 702.1L1144 694.7L1145.2 687.5L1146.2 680.7L1147.3 671.9L1148.2 663.5L1149.1 655.6L1150 648L1150.9 640.7L1152.2 632L1153.4 623.8L1154.8 616.2L1156.3 609.4L1159.4 601.6L1163.1 594.1L1165.5 585.5L1165.1 576.5L1163 567.7L1159.7 558.5L1155.8 551L1151.1 543.4L1146.4 535.9L1142.8 529L1139.3 519.2L1136.8 509.6L1135 502.8Z" fill="#9aacaf" />
<circle cx="1170" cy="806" r="5" fill="#9aacaf" />
<path d="M1169.9 846.5L1164.2 846.7L1156.2 847.2L1148.9 848.7L1143.6 851.4L1139.4 855.6L1137.5 861.9L1138.9 869.4L1142.1 877.4L1145.1 885.9L1147.3 892.7L1149.7 900L1151.6 907.4L1152.5 915L1152 921.2L1150.5 927.9L1148.7 935L1147 942.3L1146 949.8L1146.2 958L1146.9 966.9L1147.8 975.5L1148.8 982.9L1149.5 988L1150.5 988L1150.4 982.7L1150 975.3L1149.6 966.7L1149.6 958L1150 950.2L1151.1 943.1L1153 936.1L1155 929.1L1156.7 922L1157.5 915L1156.8 906.6L1155 898.5L1152.8 891L1150.9 884.1L1148.1 875.3L1145.4 867.5L1144.5 862.1L1145.4 859.2L1147.6 857.1L1151.1 855.3L1157 854.1L1164.6 853.7L1170.1 853.5Z" fill="#a3b3b5" />
<circle cx="1170" cy="850" r="3.5" fill="#a3b3b5" />
<path d="M1170 848.9L1164.4 849.1L1156.5 849.6L1149.7 850.9L1144.9 853.3L1141.4 856.8L1139.9 862L1141.1 868.7L1144.1 876.7L1147.1 885.3L1149.2 892.2L1151.5 899.5L1153.4 907.1L1154.2 915L1153.6 921.5L1152.1 928.3L1150.1 935.4L1148.4 942.6L1147.4 950L1147.3 958L1147.8 966.8L1148.6 975.4L1149.3 982.8L1149.8 988L1150.2 988L1149.8 982.8L1149.3 975.4L1148.7 966.8L1148.4 958L1148.6 950L1149.7 942.9L1151.5 935.7L1153.5 928.7L1155.1 921.8L1155.8 915L1155.1 906.8L1153.2 899L1151 891.6L1148.9 884.7L1146 876L1143.2 868.2L1142.1 862L1143.4 858L1146.2 855.2L1150.3 853.1L1156.7 851.8L1164.5 851.3L1170 851.1Z" fill="#dfe7e8" />
<path d="M1005.4 679.2L1001.2 676.6L995.7 673L989.1 668.7L981.6 664L973.5 659.4L965 655.1L956.5 651.8L949.8 649.5L942.8 647.4L935.4 645.5L927.8 643.7L920.1 642.2L912.3 641L904.6 640.2L897 639.8L889.6 640L881.6 640.9L873.5 642.4L865.6 644.5L857.8 647L850.3 649.9L843.1 653.3L836.4 656.9L830.1 660.9L823.5 666.1L817.4 671.9L811.8 678.3L806.8 684.9L802.4 691.7L798.6 698.4L795.4 705L792.5 712.7L790.6 720.5L789.5 728.3L789.1 736L789.4 743.5L790 750.6L791.3 759L793.3 767.4L796.2 775.7L800.6 783.6L806.4 790.5L811.5 795L817.2 799.3L823.6 803.3L830.7 806.9L838.4 809.8L846.8 811.9L855.6 813L862.4 813L869.5 812.5L877 811.6L884.6 810.2L892.5 808.6L900.4 806.7L908.4 804.7L916.2 802.6L923.8 800.4L931.2 798.3L938.8 796.1L946.8 793.4L955 790.5L963.2 787.4L971.3 784.3L978.9 781.3L986 778.4L992.2 775.9L997.5 773.8L1001.6 772.2L998.4 763.8L994.2 765.4L988.9 767.6L982.6 770.1L975.6 772.9L968 775.9L960 779L952 782L943.9 784.9L936.1 787.5L928.8 789.7L921.4 791.7L913.8 793.7L906.1 795.7L898.3 797.6L890.5 799.3L882.9 800.8L875.6 802L868.6 802.8L862.1 803.1L856.4 803L848.6 802.1L841.4 800.2L834.7 797.7L828.5 794.6L822.9 791.1L817.9 787.3L813.6 783.5L808.8 777.9L805.4 771.6L802.9 764.6L801.1 757.1L800 749.4L799.3 742.9L799.1 736.1L799.5 729.3L800.4 722.4L802.1 715.7L804.6 709L807.5 703.1L811 696.9L815 690.6L819.6 684.6L824.6 678.8L830.1 673.6L835.9 669.1L841.5 665.5L847.6 662.2L854.2 659.1L861.2 656.4L868.4 654.1L875.7 652.2L883.1 650.8L890.4 650L896.9 649.7L903.9 649.9L911.1 650.6L918.5 651.6L925.9 652.9L933.2 654.5L940.3 656.3L947.1 658.3L953.5 660.2L961.3 663.4L969.2 667.3L977 671.7L984.3 676.3L990.8 680.6L996.4 684.2L1000.6 686.8Z" fill="#9aacaf" />
<circle cx="1003" cy="683" r="4.5" fill="#9aacaf" />
<circle cx="1000" cy="768" r="4.5" fill="#9aacaf" />
<path d="M1213.8 791.1L1217.9 789.4L1223.3 786.9L1229.8 784L1236.9 780.8L1244.3 777.6L1251.9 774.7L1259.2 772.2L1266 770.4L1273.7 768.8L1281.7 767.6L1289.8 766.7L1297.8 766.2L1305.5 766.1L1312.7 766.5L1319.1 767.4L1327.3 769.6L1334.8 772.9L1341.6 776.9L1347.5 781.7L1352.5 786.8L1356.5 792.7L1359.7 799.4L1362.1 806.7L1363.7 814.4L1364.5 822.3L1364.6 828.9L1364 835.9L1363 843.1L1361.3 850.3L1358.9 857.3L1356 864L1352.8 869.6L1349 875.5L1344.7 881.3L1340.1 886.8L1335.1 891.9L1329.9 896.5L1324.6 900.2L1318 903.8L1310.7 906.7L1303 909L1295.1 910.6L1287.4 911.4L1280.3 911.5L1273.4 910.6L1266.5 908.7L1259.6 906L1252.8 902.8L1246.2 899.4L1240.3 896.1L1233.6 891.9L1227.3 887.1L1221.5 882.1L1216.6 877.7L1212.9 874.6L1207.1 881.4L1210.6 884.5L1215.6 888.9L1221.6 894.1L1228.5 899.3L1235.7 903.9L1242 907.3L1248.8 910.8L1256 914.3L1263.7 917.2L1271.6 919.4L1279.7 920.5L1288 920.4L1296.5 919.5L1305.1 917.7L1313.7 915.2L1321.8 911.9L1329.4 907.8L1335.4 903.5L1341.2 898.5L1346.7 892.9L1351.8 886.9L1356.4 880.6L1360.5 874.3L1364 868L1367.3 860.6L1369.9 852.8L1371.8 844.9L1373 836.9L1373.5 829.2L1373.5 821.7L1372.6 813.1L1370.8 804.4L1368.1 796L1364.3 788.2L1359.5 781.2L1353.6 775L1346.7 769.5L1338.9 764.8L1330.3 761.1L1320.9 758.6L1313.6 757.5L1305.7 757.1L1297.5 757.2L1289 757.7L1280.5 758.7L1272.1 760L1264 761.6L1256.6 763.6L1248.8 766.2L1241 769.3L1233.3 772.6L1226.1 775.8L1219.6 778.7L1214.3 781.1L1210.2 782.9Z" fill="#9aacaf" />
<circle cx="1212" cy="787" r="4.5" fill="#9aacaf" />
<circle cx="1210" cy="878" r="4.5" fill="#9aacaf" />
<circle cx="1062.8" cy="630.1" r="32.6" fill="#9ff016" stroke="#2b7a12" stroke-width="6.3"/>
<circle cx="1137.3" cy="639" r="32.6" fill="#9ff016" stroke="#2b7a12" stroke-width="6.3"/>
<path d="M1058.8 629.6L1141.3 639.5" stroke="#27a51b" stroke-width="21" fill="none"/>
<circle cx="1025" cy="698" r="31" fill="#ff22ff"/>
<circle cx="1025" cy="765" r="31" fill="#ff22ff"/>
<path d="M1025 695L1025 768" stroke="#e8187c" stroke-width="21" fill="none"/>
<circle cx="1187" cy="785" r="31" fill="#ff22ff"/>
<circle cx="1187" cy="853" r="31" fill="#ff22ff"/>
<path d="M1187 782L1187 856" stroke="#e8187c" stroke-width="21" fill="none"/>
<path d="M1079.7 680.2L1081.7 685.1L1084.2 691.8L1085.3 696.9L1084.4 701.1L1082 706.2L1079.9 710.2L1079.2 711.1L1079.8 710.6L1079.5 710.6L1081.3 720.4L1082.6 720.2L1085.6 718.8L1088.1 715.8L1091.2 711.3L1094.7 705L1096.7 697.1L1095.3 688.6L1092.4 681L1090.3 675.8Z" fill="#1c1b1c" />
<polygon points="1078,699.5 1060.5,728 1094,724.5 1080.4,715.5" fill="#1c1b1c"/>
<path d="M1091.7 794.1L1090.7 787.9L1089.3 779L1087.6 770.6L1085 763.5L1082.3 757.7L1080.8 754.6L1072.5 759.1L1073.3 760.4L1074.2 761.9L1082.7 756.7L1081.8 755.1L1080.1 752.5L1071.2 757.4L1072.6 761.6L1074.7 767.3L1076.4 773.4L1078 781L1079.4 789.7L1080.3 795.9Z" fill="#1c1b1c" />
<polygon points="1095.5,756 1065,740 1069,773.5 1078.5,759.3" fill="#1c1b1c"/>
<path d="M1108.4 771.1L1109.6 777.2L1111.4 785.8L1113.5 793.8L1116.5 800.2L1119.6 805.3L1121.6 808.3L1129.8 803.2L1129.6 802.7L1129 801.7L1120.5 806.9L1121.1 808L1122.4 809.9L1130.4 803.7L1128.8 800.3L1126.4 795.5L1124.5 790.2L1122.6 783.1L1120.9 774.8L1119.6 768.9Z" fill="#1c1b1c" />
<polygon points="1106,808 1138,823 1136,790 1124.7,804.3" fill="#1c1b1c"/>
<path d="M1125.7 880.1L1125.9 874.7L1126.1 867.2L1126.6 861.1L1127.8 857L1129.5 853L1130.9 848.8L1124.4 842.6L1121.1 844.2L1119.7 845.1L1125.3 853.4L1126.4 852.7L1126.3 852.4L1121.1 847.2L1120.1 848.5L1117.6 852.8L1115.4 858.9L1114.6 866.5L1114.4 874.4L1114.3 879.9Z" fill="#1c1b1c" />
<polygon points="1106,846 1135,831.5 1132,862.5 1122.5,849.2" fill="#1c1b1c"/>
<path d="M1320 706.2 L1448 700.5 Q1442 691.4 1428 671 L1500 708 L1428 745 Q1442 724.6 1448 715.5 L1320 709.8 Z" fill="#464e50"/>
<circle cx="1320" cy="708" r="1.8" fill="#464e50"/>
<path d="M1591.5 555.2L1593.5 560L1596.6 566.6L1599.9 574.4L1602.8 582.5L1604.5 590.2L1604.8 597.9L1604.1 606.2L1602.9 614.6L1601.6 622.6L1600.5 629.7L1599.2 640.1L1598 648.7L1597 654.6L1603 655.4L1603.6 649.4L1604.5 640.7L1605.5 630.3L1606.2 623.2L1607.1 615.1L1607.9 606.5L1608.2 597.9L1607.5 589.8L1605.3 581.7L1602 573.5L1598.2 565.9L1594.8 559.4L1592.5 554.8Z" fill="#9aacaf" />
<circle cx="1600" cy="655" r="3" fill="#9aacaf" />
<path d="M1598.8 771.9L1599.9 774.7L1601.3 778.7L1602.8 783.7L1604.8 789.1L1606.7 794.3L1606.8 800.2L1605 806.3L1601.6 814.2L1597.8 822.6L1594.8 830.5L1592.3 839.4L1590.8 847.5L1590.5 855.2L1592.3 862.1L1595.3 867.9L1598.2 872.8L1600.9 877.7L1603.5 882.2L1605.5 885.2L1606.5 884.8L1605.3 881.3L1603.6 876.5L1601.8 871.2L1599.9 865.8L1598.1 860.4L1597.5 854.8L1598.3 848.7L1600.3 841.6L1603.2 833.5L1606.4 826.4L1610.5 818.3L1614.5 809.9L1617.2 801.8L1617.2 792.7L1615.1 785.6L1613.2 780.3L1611.8 775.3L1610.2 771L1609.2 768.1Z" fill="#9aacaf" />
<circle cx="1604" cy="770" r="5.5" fill="#9aacaf" />
<path d="M1613.1 713.6L1616.8 711.5L1622.4 708L1631.6 702.5L1636.4 699.8L1642 696.5L1648.3 692.8L1655 689L1661.9 685L1668.8 681.1L1675.7 677.3L1682.2 673.9L1689.3 670.1L1696.5 666.3L1703.6 662.6L1710.7 659.2L1717.7 656L1724.6 653.1L1731.6 650.8L1738.6 648.7L1745.7 646.8L1752.9 645.3L1760 644.1L1766.9 643.3L1773.5 643L1779.7 643L1788.2 643.8L1796.2 645.4L1803.9 647.6L1810.9 650.6L1817.2 654.1L1822.8 658.6L1827.9 664.1L1832.6 670.4L1836.9 676.8L1840.8 682.7L1845.8 690.7L1849.2 698L1852.3 706.6L1854.1 712.7L1855.8 719.4L1857.3 726.4L1858.4 733.4L1859 740.3L1859.2 747.1L1859 753.9L1858.3 760.7L1857.1 767.2L1855.3 773.3L1852.8 779.4L1849.8 785.4L1846.2 791.1L1841.9 796.4L1836.8 801.2L1831.7 804.9L1825.7 808.7L1819.1 812.2L1812.2 815.2L1805.5 817.6L1799.1 819.1L1791.8 819.9L1784.6 819.9L1777.3 819L1769.7 817.1L1761.8 814.3L1756 811.7L1749.9 808.4L1743.5 804.5L1737 800.2L1730.6 795.6L1724.2 790.8L1718.2 786.1L1712.4 781.2L1706.8 775.9L1701.3 770.2L1695.7 764.4L1690 758.7L1684.2 753.1L1678.1 748.1L1671.6 743.4L1664.9 739.1L1658 735L1651.3 731.2L1644.9 727.7L1639.1 724.6L1634 722L1624.6 717.6L1617.8 715.1L1613.4 713.7L1610.6 722.3L1614.9 723.7L1621.1 725.9L1630 730L1634.8 732.7L1640.5 735.8L1646.7 739.4L1653.1 743.2L1659.7 747.3L1666 751.5L1671.9 755.9L1677.5 760.6L1683 765.8L1688.5 771.4L1694.1 777.2L1699.8 783L1705.7 788.7L1711.8 793.9L1718.2 798.8L1724.7 803.7L1731.4 808.4L1738.1 812.9L1744.9 817.1L1751.6 820.7L1758.2 823.7L1766.9 826.7L1775.4 828.8L1783.9 829.9L1792.4 829.9L1800.9 828.9L1808.3 827.1L1815.9 824.5L1823.4 821.2L1830.6 817.4L1837.3 813.2L1843.2 808.8L1849.2 803.2L1854.3 797L1858.5 790.4L1861.9 783.6L1864.7 776.7L1866.9 769.5L1868.2 762L1869 754.5L1869.2 747.1L1869 739.7L1868.3 732.2L1867.1 724.6L1865.6 717.1L1863.7 710L1861.7 703.4L1858.5 694.2L1854.5 685.9L1849.2 677.3L1845.2 671.3L1840.7 664.6L1835.5 657.7L1829.6 651.3L1822.8 645.9L1815.3 641.6L1807.3 638.2L1798.6 635.6L1789.6 633.9L1780.3 633L1773.2 633L1766 633.4L1758.6 634.2L1751 635.5L1743.4 637.1L1735.9 639L1728.4 641.2L1721.1 643.9L1713.8 647.1L1706.5 650.5L1699.3 654.3L1692.1 658.1L1685 662.1L1677.8 666.1L1671.4 669.8L1664.7 673.9L1657.8 678.2L1651 682.5L1644.5 686.8L1638.5 690.8L1633 694.4L1628.4 697.5L1619.5 703.6L1614.2 707.6L1610.9 710.4Z" fill="#9aacaf" />
<circle cx="1612" cy="712" r="2" fill="#9aacaf" />
<circle cx="1612" cy="718" r="4.5" fill="#9aacaf" />
<path d="M2136.9 663.9L2134.6 662.9L2130.9 661.2L2124 658L2119 655.3L2113 652L2106.1 648.2L2098.5 644.2L2090.2 640.5L2081.6 637.3L2074.8 635.2L2067.6 633.1L2060 631.1L2052.2 629.3L2044.2 627.7L2036.1 626.4L2028.1 625.5L2020.1 625L2012.3 625L2004.3 625.4L1996.3 626.1L1988.3 627.1L1980.4 628.5L1972.7 630.1L1965.3 632.1L1958.3 634.3L1950.6 637.3L1943.1 640.9L1935.9 644.8L1929.1 649.1L1922.8 653.6L1917.3 658L1912.3 662.6L1906.1 670.3L1902.3 678.3L1900 686.4L1898.1 695L1896.9 701.7L1896.2 708.9L1895.7 716.3L1895.4 723.8L1895.2 731L1895 737.8L1894.6 745.5L1894.1 753.2L1893.8 760.9L1894 768.6L1895.1 776.1L1897.6 784.9L1901.1 793.3L1905.7 801.2L1911.2 808.3L1916.7 813.7L1923 818.7L1929.7 823.2L1936.6 827L1943.4 829.7L1951.4 831.9L1959.6 832.8L1968.1 832.1L1976.6 829.7L1982.7 827L1988.7 823.7L1994.8 819.7L2000.9 815L2007.2 809.6L2013.5 803.5L2018 798.8L2022.6 793.5L2027.2 787.7L2031.9 781.7L2036.6 775.6L2041.2 769.5L2045.7 763.6L2049.9 758.1L2053.9 753.1L2059.5 746.2L2064.7 739.6L2069.5 733.5L2074.1 727.9L2078.7 723L2083.2 718.9L2090.1 713.6L2096.6 709.6L2103.4 706.8L2110.9 704.9L2117.8 704.1L2125.6 704L2133.8 704.6L2141.7 705.6L2148.9 706.9L2157 708.9L2164.3 711.4L2170.9 714.6L2176.8 718.8L2181.2 723.2L2185.5 728.7L2189.5 734.9L2193 741.2L2195.9 746.8L2199.2 755.1L2200.9 762.3L2200.6 769.3L2198.9 774.8L2195.9 780.9L2191.8 786.9L2187.4 791.9L2181.7 795.7L2174.2 798.8L2166.3 802.3L2159.8 807.6L2156 816.5L2155.5 826L2156.5 835.5L2158.2 843.2L2160.8 851.4L2164.1 859.3L2167.9 866.4L2174.7 873.8L2182.3 879.7L2187.7 883.4L2188.3 882.6L2183.8 877.9L2177.4 871.3L2172.1 863.6L2169.2 857.1L2166.5 849.5L2164.6 841.7L2163.5 834.5L2162.8 825.9L2163.5 818.3L2166.2 812.4L2170.4 809.2L2177.3 806.2L2185.4 802.8L2192.6 798.1L2198.3 792L2203.1 785.3L2207 778.2L2209.4 770.7L2209.9 761.4L2207.8 752.3L2204.1 743.2L2201.2 736.9L2197.6 730.2L2193.4 723.3L2188.6 716.8L2183.2 711.2L2176 706L2168.2 702.1L2159.8 699.3L2151.1 697.1L2143.2 695.7L2134.7 694.6L2125.9 694L2117.2 694.1L2109.1 695.1L2100.2 697.3L2092.1 700.7L2084.4 705.3L2076.8 711.1L2071.6 716L2066.6 721.3L2061.7 727.2L2056.8 733.4L2051.7 740L2046.1 746.9L2042 751.9L2037.7 757.5L2033.2 763.5L2028.6 769.5L2024 775.6L2019.4 781.5L2014.9 787.1L2010.6 792.1L2006.5 796.5L2000.5 802.2L1994.6 807.2L1989 811.6L1983.5 815.2L1978.3 818.1L1973.4 820.3L1966.2 822.3L1959.8 822.8L1953.3 822.1L1946.6 820.3L1940.9 817.9L1934.9 814.6L1928.9 810.6L1923.4 806.2L1918.8 801.7L1914 795.6L1910.1 788.8L1907.1 781.6L1904.9 773.9L1904 767.7L1903.8 761L1904.1 753.8L1904.6 746.1L1905 738.2L1905.2 731.3L1905.4 724.1L1905.7 716.8L1906.1 709.7L1906.8 703.1L1907.9 697L1909.7 688.8L1911.6 681.8L1914.5 675.7L1919.7 669.4L1923.8 665.6L1928.9 661.5L1934.6 657.4L1940.9 653.5L1947.6 649.8L1954.6 646.5L1961.7 643.7L1968.1 641.7L1975 639.9L1982.3 638.3L1989.7 637L1997.3 636L2005 635.3L2012.5 635L2019.9 635L2027.2 635.4L2034.7 636.3L2042.4 637.5L2050.1 639.1L2057.6 640.8L2064.9 642.8L2071.9 644.8L2078.4 646.7L2086.5 649.6L2094.3 653L2101.7 656.6L2108.6 660.2L2114.7 663.4L2120 666L2127.1 669.3L2130.8 671.1L2133.1 672.1Z" fill="#9aacaf" />
<circle cx="2135" cy="668" r="4.5" fill="#9aacaf" />
<path d="M2178.5 548L2178 553.3L2177.4 560.8L2176.7 569.6L2175.9 578.8L2175.2 587.5L2174.5 594.9L2173.4 603.6L2172.3 611.1L2171.3 618.1L2171 625.1L2172.5 634.2L2174.8 642.5L2176.3 650.1L2176.1 658.2L2175.2 666.2L2174.5 671.8L2177.5 672.2L2178.3 666.6L2179.4 658.5L2179.7 649.9L2178.3 641.7L2176.2 633.4L2175 624.9L2175.1 618.4L2175.7 611.6L2176.7 604L2177.5 595.1L2177.9 587.7L2178.3 578.9L2178.7 569.7L2179.1 560.9L2179.3 553.4L2179.5 548Z" fill="#9aacaf" />
<circle cx="2176" cy="672" r="1.5" fill="#9aacaf" />
<circle cx="1842" cy="729" r="31.5" fill="#9ff016" stroke="#2b7a12" stroke-width="6"/>
<circle cx="1917.5" cy="723" r="31.5" fill="#9ff016" stroke="#2b7a12" stroke-width="6"/>
<path d="M1839 729.2L1920.5 722.8" stroke="#27a51b" stroke-width="21" fill="none"/>
<circle cx="1603.3" cy="678" r="31" fill="#ff22ff"/>
<circle cx="1603" cy="746" r="31" fill="#ff22ff"/>
<path d="M1603.3 675L1603 749" stroke="#e8187c" stroke-width="21" fill="none"/>
<circle cx="2148" cy="650.5" r="30.5" fill="#ff22ff"/>
<circle cx="2147" cy="719" r="30.5" fill="#ff22ff"/>
<path d="M2148 647.5L2147 722" stroke="#e8187c" stroke-width="21" fill="none"/>
<path d="M1547.6 639L1546.4 646.1L1544.8 656.2L1544 666.1L1545.3 674.4L1547.4 681L1548.6 684.8L1548.9 683.5L1552.6 680.6L1552.8 680.6L1551.8 691.5L1553.3 691.6L1558.7 688.4L1559.4 683.2L1558.3 678L1556.7 672L1556 665.9L1556.7 657.7L1558.2 648L1559.4 641Z" fill="#1c1b1c" />
<polygon points="1536.7,691.4 1568,702.5 1559,671.4 1552.3,686" fill="#1c1b1c"/>
<path d="M1566.5 780.3L1564.5 775.5L1561.5 768.6L1558.3 761L1555.6 753.9L1554.2 749.2L1554.1 744.9L1555.4 742.1L1557.2 738.5L1558.4 735.5L1559.2 733.8L1559.9 732.6L1549.7 727.2L1549 728.6L1547.9 730.9L1546.8 733.5L1544.9 736.7L1542.2 742.5L1541.8 750.8L1543.8 757.9L1546.7 765.6L1550 773.5L1553 780.4L1554.9 785.1Z" fill="#1c1b1c" />
<polygon points="1539,723.7 1571.7,716 1561,744 1554.8,729.9" fill="#1c1b1c"/>
<path d="M2198.8 634.7L2198.5 638.4L2198.1 643.4L2197.4 647.6L2196.1 651.1L2194.3 654.7L2193 657L2194.4 656.2L2198.2 656.4L2198.4 656.5L2191.7 663.9L2192.6 664.7L2197.7 665.6L2201 663L2203.1 659.8L2205.5 655.4L2207.6 650.4L2208.6 644.7L2209 639.1L2209.2 635.3Z" fill="#1c1b1c" />
<polygon points="2187,645.7 2180.2,678 2211.4,664.7 2195,660.2" fill="#1c1b1c"/>
<path d="M2220.4 745.1L2219.2 737.9L2217.5 727.6L2215.2 718.3L2212.1 711.4L2208.6 706.2L2205.6 702.5L2199.8 700.4L2195.7 703.7L2195 705L2203.9 709.5L2204.2 709L2201.5 710.3L2198.4 709.5L2200.1 712L2202.6 716.3L2204.8 721.7L2206.7 729.8L2208.4 739.7L2209.6 746.9Z" fill="#1c1b1c" />
<polygon points="2215.9,702.5 2184.7,690.3 2191.4,721.5 2199.5,707.2" fill="#1c1b1c"/>
<path d="M1015.2 1516.9L1011.9 1513.3L1007.3 1508.5L1001.9 1502.9L996 1496.7L990 1490.1L984.2 1483.4L978.9 1476.9L974.5 1471.2L970 1465.4L965.5 1459.5L961.2 1453.4L957 1447.2L953.1 1440.9L949.6 1434.5L946.6 1428L943.9 1421.3L941.4 1414.3L939.2 1407.2L937.3 1399.9L935.7 1392.5L934.5 1385L933.5 1377.4L933 1369.7L932.8 1362.6L932.8 1355.1L933.1 1347.4L933.6 1339.6L934.4 1331.9L935.5 1324.4L936.9 1317.3L938.6 1310.7L940.6 1304.9L943.8 1298.1L947.5 1291.9L951.8 1286.3L956.5 1281.2L961.6 1276.5L967.1 1272.1L972.7 1268.2L978.6 1264.8L985.1 1261.8L992 1259.3L999.2 1257.1L1006.5 1255.4L1013.7 1254L1020.6 1253L1028.6 1252.2L1036.6 1252L1044.5 1252.2L1052.1 1253L1059.5 1254.4L1066.4 1256.3L1073 1258.9L1079.4 1262L1085.5 1265.7L1091.1 1269.8L1096.2 1274.5L1100.7 1279.5L1104 1284.4L1107.1 1290L1109.9 1296L1112.4 1302.4L1114.5 1308.9L1116.1 1315.4L1117.1 1321.5L1118 1328.5L1118.3 1335.7L1118 1343L1117.1 1350.5L1115.8 1358.2L1114.2 1366L1112.7 1372.6L1110.7 1379.5L1108.2 1386.7L1105.5 1393.9L1102.7 1401.1L1099.8 1408.2L1097.1 1415L1094.1 1422.4L1090.9 1429.6L1087.7 1436.6L1084.4 1443.5L1081.3 1450.4L1078.3 1457.5L1075.3 1464.6L1072.4 1472L1069.7 1479.2L1067.1 1486.1L1064.8 1492.5L1062.8 1498.2L1059.9 1507.3L1058.2 1514.2L1057.2 1518.7L1066.8 1521.3L1068.2 1516.9L1070.1 1510.5L1073.2 1501.8L1075.3 1496.5L1077.8 1490.3L1080.6 1483.5L1083.6 1476.5L1086.6 1469.4L1089.7 1462.5L1093 1456L1096.4 1449.4L1100 1442.7L1103.6 1435.8L1107.3 1428.5L1110.9 1421L1114 1414.3L1117.2 1407.4L1120.6 1400.2L1123.8 1392.7L1126.9 1385.2L1129.6 1377.6L1131.8 1370L1133.5 1361.5L1135 1353L1135.9 1344.4L1136.3 1335.7L1136 1327.1L1134.9 1318.5L1132.9 1311.1L1130.5 1303.7L1127.5 1296.4L1124.1 1289.3L1120.3 1282.5L1116 1276.2L1111.3 1270.5L1105.5 1264.6L1099 1259.5L1092 1255.1L1084.8 1251.3L1077.3 1248.2L1069.6 1245.7L1061.7 1243.8L1053.5 1242.5L1045 1241.8L1036.5 1241.6L1027.9 1242.1L1019.4 1243L1012 1244.2L1004.3 1245.6L996.6 1247.5L988.8 1249.8L981.3 1252.6L974 1255.9L967.3 1259.8L961.1 1264.1L955.1 1268.8L949.4 1274.1L944.1 1279.9L939.2 1286.3L934.9 1293.4L931.4 1301.1L929.1 1307.8L927.2 1315L925.7 1322.7L924.5 1330.6L923.6 1338.7L923.1 1346.9L922.8 1354.9L922.8 1362.8L923 1370.3L923.6 1378.4L924.6 1386.4L925.9 1394.4L927.6 1402.2L929.6 1409.9L931.9 1417.4L934.5 1424.8L937.4 1432L940.7 1439.1L944.5 1445.9L948.6 1452.6L953 1459.1L957.5 1465.4L962 1471.5L966.6 1477.4L971.1 1483.1L976.6 1489.8L982.8 1496.6L989 1503.2L995.1 1509.5L1000.7 1515L1005.3 1519.7L1008.8 1523.1Z" fill="#9aacaf" />
<circle cx="1012" cy="1520" r="4.5" fill="#9aacaf" />
<circle cx="1062" cy="1520" r="5" fill="#9aacaf" />
<path d="M1076.2 1289.4L1072.5 1293.3L1067.3 1299.1L1061.7 1306.2L1057.2 1313.8L1054.8 1320.4L1052.8 1327.3L1051.3 1334.6L1050.2 1342.2L1049.5 1349.9L1049.7 1358.1L1050.4 1366.9L1051.4 1375.6L1052.7 1383.7L1054.1 1391L1057.4 1400.3L1061.2 1407.6L1064.9 1413.3L1068.5 1417.6L1071.9 1420.2L1074.3 1421.7L1075.7 1420.3L1074 1418.1L1071.6 1415L1069.1 1410.7L1066.6 1405L1064 1398L1061.9 1389L1060.8 1382.4L1059.7 1374.5L1058.9 1366.1L1058.5 1357.8L1058.5 1350.1L1058.6 1342.8L1059 1335.7L1059.9 1328.7L1061.1 1322.2L1062.8 1316.2L1066 1308.8L1070.5 1301.5L1074.9 1295.2L1077.8 1290.6Z" fill="#9aacaf" />
<path d="M1122.1 1251L1126.8 1251L1133.4 1250.7L1141 1250.4L1149.2 1250.3L1157.2 1250.7L1164.3 1251.9L1171.2 1253.9L1178.3 1256.5L1185.4 1259.6L1192.3 1263.1L1198.8 1267L1204.7 1271L1211.2 1275.9L1217.3 1281.2L1222.6 1286.8L1227.1 1292.8L1230.8 1299.3L1233.2 1305.1L1235.1 1311.6L1236.6 1318.3L1237.5 1325.3L1237.8 1332.5L1237.5 1339.6L1236.9 1345.9L1235.8 1352.6L1234.2 1359.4L1232.2 1366.4L1229.8 1373.2L1227.1 1379.7L1224.1 1385.7L1220.8 1391.3L1216.9 1396.9L1212.4 1402.4L1207.5 1407.9L1202.4 1413.5L1197.1 1419L1192.2 1424.5L1186.7 1430.7L1180.9 1436.6L1174.9 1442.6L1169.1 1448.7L1163.7 1455L1158.9 1461.8L1154.4 1470.4L1151 1479.5L1148.5 1488.2L1146.6 1495.5L1145.2 1500.5L1154.8 1503.5L1156.6 1498.4L1158.8 1491.3L1161.6 1483.3L1164.9 1475.3L1169.1 1468.2L1173.3 1463.2L1178.6 1458L1184.6 1452.8L1190.9 1447.3L1197.5 1441.5L1203.8 1435.5L1208.9 1430.3L1214.2 1425L1219.7 1419.5L1225.2 1413.8L1230.6 1407.7L1235.5 1401.2L1239.9 1394.3L1243.4 1387L1246.4 1379.4L1249 1371.5L1251.1 1363.6L1252.8 1355.7L1253.9 1348L1254.5 1340.4L1254.3 1331.9L1253.4 1323.4L1251.8 1315.2L1249.5 1307.3L1246.7 1299.8L1243.2 1292.7L1238.3 1285L1232.4 1278L1225.9 1271.7L1218.8 1266.1L1211.3 1261L1204.5 1257.2L1197.1 1253.6L1189.3 1250.4L1181.4 1247.7L1173.5 1245.5L1165.7 1244.1L1157.5 1243.7L1149 1244.3L1140.6 1245.4L1132.9 1246.8L1126.5 1248.1L1121.9 1249Z" fill="#9aacaf" />
<circle cx="1150" cy="1502" r="5" fill="#9aacaf" />
<path d="M890.2 1540.5L895.1 1539.2L902.2 1537L910.2 1534.7L918.2 1532.9L925 1532.5L932.6 1533.6L939.9 1535.9L946.7 1539.2L952.5 1543.2L957.4 1548.1L961.8 1554.7L966.4 1562L972 1568.4L980.5 1574.8L989.8 1579.7L1000 1582L1009.7 1579.6L1018.1 1574.8L1027 1570.1L1033.3 1567.2L1040.3 1563.8L1047.4 1560.6L1054.2 1558.2L1060 1557L1066.7 1557.9L1073.4 1560.8L1081 1564.2L1089.6 1566L1097.1 1565.6L1104.5 1564.4L1111.8 1562.6L1118.9 1560.7L1126 1558.9L1133 1557.2L1139.9 1555.3L1146.8 1553.4L1153.7 1551.7L1160.8 1550.4L1168.6 1549.5L1177.1 1548.7L1185.4 1548.2L1193 1548.2L1198.6 1548.8L1205.4 1551.4L1211.3 1555.8L1219.6 1560.5L1227.4 1562.5L1235.2 1564L1244.1 1565.2L1254.6 1566L1261.1 1566.1L1268.8 1566L1277 1565.9L1285.5 1565.7L1293.7 1565.4L1301.2 1565.1L1307.4 1564.8L1312 1564.5L1312 1563.5L1307.5 1562.9L1301.2 1562.4L1293.8 1561.8L1285.6 1561.2L1277.2 1560.5L1269 1559.8L1261.6 1558.9L1255.4 1558L1245.5 1556.3L1237.4 1554.2L1230.4 1551.9L1224.4 1549.5L1217.8 1545.8L1211.1 1540.8L1201.4 1537.2L1193.1 1536.8L1184.7 1537.4L1175.9 1538.6L1167.3 1540L1159.2 1541.6L1151.7 1543.2L1144.5 1545.1L1137.6 1547.2L1130.8 1549.3L1124 1551.1L1116.9 1552.9L1109.8 1554.8L1102.8 1556.5L1096.2 1557.7L1090.4 1558L1083.5 1556.6L1076.6 1553.5L1068.8 1550.2L1060 1549L1052.1 1550.3L1044.4 1552.8L1036.8 1556L1029.6 1559.2L1023 1561.9L1013.7 1566.6L1006.2 1570.6L1000 1572L993.1 1570.6L985.4 1566.8L978 1561.6L973.4 1556.6L968.8 1550L963.8 1542.9L957.5 1536.8L950 1532.7L942 1529.7L933.6 1527.9L925 1527.5L917.4 1528.8L909.2 1531.4L901.3 1534.5L894.5 1537.5L889.8 1539.5Z" fill="#9aacaf" />
<circle cx="1010" cy="1537" r="26" fill="#ff22ff"/>
<circle cx="1062" cy="1528" r="26" fill="#ff22ff"/>
<path d="M1008 1537.3L1064 1527.7" stroke="#e8187c" stroke-width="19" fill="none"/>
<circle cx="1112" cy="1533" r="26" fill="#ffa63a"/>
<circle cx="1167.5" cy="1519.5" r="26" fill="#ffa63a"/>
<path d="M1112 1533L1167.5 1519.5" stroke="#ff8a1c" stroke-width="19" fill="none"/>
<circle cx="1354" cy="1363" r="26" fill="#ffa63a"/>
<circle cx="1399" cy="1397" r="26" fill="#ffa63a"/>
<path d="M1353.2 1362.4L1399.8 1397.6" stroke="#ff8a1c" stroke-width="17" fill="none"/>
<path d="M1252.9 1492L1258 1492.1L1265.4 1492.3L1274.2 1492.5L1283.1 1492.1L1291.4 1490.8L1300.1 1487.8L1308 1483.8L1315.1 1479.2L1321.6 1474.2L1327.6 1468.2L1332.8 1461.5L1337 1455.4L1340.1 1450.9L1342.2 1447.9L1343.1 1445.4L1343.1 1443.7L1333.2 1444.9L1333.2 1443.7L1333.7 1442.6L1331.9 1445.1L1328.7 1449.4L1324.4 1455.1L1319.6 1461L1314.4 1465.8L1308.7 1469.9L1302.4 1473.8L1295.7 1477L1288.6 1479.2L1282 1480.1L1274 1480.5L1265.7 1480.3L1258.3 1480.1L1253.1 1480Z" fill="#1c1b1c" />
<polygon points="1320,1441 1351,1424 1349,1459 1338.1,1444.3" fill="#1c1b1c"/>
<path d="M1398 1476.5 L1528 1470.8 Q1522 1462.3 1508 1442 L1580 1479 L1508 1516 Q1522 1495.7 1528 1487.2 L1398 1481.5 Z" fill="#464e50"/>
<circle cx="1398" cy="1479" r="2.5" fill="#464e50"/>
<path d="M1785.6 1489.6L1780.6 1486L1773.4 1480.8L1765.5 1473.4L1761.5 1468.8L1757 1463.2L1752.3 1457.1L1747.5 1450.5L1742.7 1443.5L1738 1436.2L1734.4 1430.4L1730.5 1424.2L1726.7 1417.7L1722.8 1411.1L1719.1 1404.3L1715.6 1397.7L1712.5 1391.2L1709.7 1385.1L1706.5 1377.3L1703.6 1369.7L1701.2 1362.4L1699.3 1355.3L1698 1348.2L1697.2 1341.1L1697.1 1333.8L1697.4 1326.5L1698.3 1319.2L1699.7 1311.9L1701.7 1304.7L1704.2 1297.6L1706.9 1291.5L1710.1 1285.2L1713.8 1278.9L1717.8 1272.8L1722.1 1267L1726.7 1261.6L1731.6 1256.8L1736.9 1252.4L1742.8 1248.3L1749.2 1244.5L1755.8 1240.9L1762.5 1237.8L1769.3 1235L1775.7 1232.6L1783 1230.3L1790.2 1228.5L1797.5 1227.2L1804.7 1226.3L1812 1226L1819.3 1226L1826.7 1226.6L1834.2 1227.6L1841.7 1229.1L1849 1231L1855.9 1233.4L1862.1 1236.2L1868 1239.7L1873.6 1243.8L1879 1248.3L1884.1 1253.3L1888.7 1258.5L1892.8 1263.6L1897.3 1270L1901.1 1276.9L1904.5 1284L1907.2 1291.2L1909.4 1298.1L1911.3 1305.8L1912.3 1312.9L1912.5 1320.4L1911.9 1329.2L1911.3 1335.7L1910.2 1343L1908.8 1350.6L1907 1358.3L1905 1365.8L1902.8 1372.9L1900.5 1379.8L1897.8 1386.7L1895 1393.3L1891.8 1399.7L1888.5 1405.7L1884.8 1411.3L1880.9 1416.4L1876.4 1421.3L1871.4 1426.1L1866.2 1430.7L1860.8 1435.3L1855.6 1439.8L1849.4 1444.9L1843.2 1449.7L1836.8 1454.5L1830.6 1459.2L1824.7 1464L1817.7 1470.4L1811.2 1477L1805.6 1482.7L1801.9 1486.8L1808.1 1493.2L1812.3 1489.5L1818.1 1484.2L1824.8 1478.2L1831.7 1472.6L1837.4 1468.6L1843.7 1464.5L1850.5 1460.2L1857.4 1455.7L1864.2 1450.8L1869.8 1446.6L1875.6 1442.4L1881.5 1437.8L1887.4 1432.9L1893.1 1427.5L1898.4 1421.5L1903 1415.1L1907.3 1408.3L1911.1 1401.2L1914.7 1394L1917.9 1386.6L1920.8 1379.1L1923.4 1371.3L1925.8 1363.1L1927.8 1354.7L1929.5 1346.4L1930.9 1338.4L1931.9 1330.8L1932.5 1320.8L1932.2 1311.3L1931 1302L1928.6 1292.5L1925.8 1284.4L1922.4 1276.1L1918.3 1267.8L1913.4 1259.6L1907.8 1252L1902.4 1246.1L1896.6 1240.4L1890.3 1235L1883.6 1230L1876.5 1225.6L1869.1 1221.8L1861.3 1218.7L1853.1 1216.3L1844.8 1214.4L1836.3 1213.1L1827.9 1212.3L1819.7 1212L1811.6 1212L1803.6 1212.4L1795.4 1213.3L1787.3 1214.8L1779.2 1216.8L1771.1 1219.4L1764.1 1222.1L1756.9 1225.3L1749.6 1228.9L1742.4 1232.8L1735.5 1237.2L1728.9 1242L1722.8 1247.2L1717.2 1252.9L1712 1259L1707.3 1265.6L1702.9 1272.3L1699 1279.2L1695.6 1286.1L1692.6 1293L1689.7 1300.9L1687.5 1309.1L1685.9 1317.3L1684.9 1325.5L1684.6 1333.7L1684.8 1341.9L1685.6 1350L1687.1 1358L1689.2 1366L1691.8 1373.9L1694.9 1381.9L1698.3 1390.1L1701.2 1396.6L1704.6 1403.3L1708.3 1410.2L1712.2 1417.1L1716.2 1423.9L1720.2 1430.6L1724.2 1436.9L1728 1442.8L1733.1 1450.2L1738.4 1457.2L1743.6 1463.9L1748.8 1470L1753.7 1475.6L1758.5 1480.6L1767.6 1488.2L1775.8 1493.3L1781.4 1496.4Z" fill="#9aacaf" />
<circle cx="1783.5" cy="1493" r="4" fill="#9aacaf" />
<circle cx="1805" cy="1490" r="4.5" fill="#9aacaf" />
<path d="M1672.9 1529.5L1679.6 1531.8L1689.3 1535L1699.3 1538.4L1706.3 1541.2L1713.7 1544.4L1721.4 1547.5L1729.2 1549.9L1737.1 1551.2L1745.2 1551.9L1753.2 1551.9L1761.3 1550.8L1770.6 1545.8L1778.3 1539.8L1783.9 1537L1787.4 1539.8L1792.1 1546.3L1800.2 1552.1L1807.5 1553.7L1814.9 1554.4L1823 1554.6L1831.6 1554.3L1840.5 1553.5L1847.4 1552.4L1854.6 1550.9L1862.1 1549.1L1869.7 1547.2L1877.1 1545.3L1884.2 1543.5L1890.9 1541.9L1899.8 1539.7L1908 1537.3L1915.7 1535.3L1922.8 1534.1L1929.5 1534L1936 1535.6L1942.5 1538.7L1949.3 1542.7L1956.5 1546.5L1964.1 1548.9L1971.6 1549.7L1978.7 1549.7L1985.9 1549L1993.2 1547.5L2001.1 1545.3L2008.1 1542.3L2015.2 1538.2L2022.3 1533.7L2029.4 1529.5L2036.7 1526.3L2044.3 1524.5L2050.6 1524.2L2058 1524.8L2065.9 1526L2073.9 1527.7L2081.6 1529.5L2088.6 1531.3L2094.5 1532.7L2098.9 1533.5L2099.1 1532.5L2094.9 1531.2L2089.1 1529.3L2082.3 1527.1L2074.6 1524.8L2066.6 1522.6L2058.6 1520.9L2050.9 1519.7L2043.7 1519.5L2035.1 1521.2L2026.9 1524.5L2019.2 1528.5L2012 1532.7L2005.2 1536.3L1998.9 1538.7L1991.6 1540.5L1984.8 1541.6L1978.4 1542.1L1972.1 1541.9L1965.9 1541.1L1959.6 1539.1L1953.2 1535.7L1946.2 1531.7L1938.7 1528.1L1930.5 1526L1922.1 1526.1L1914 1527.5L1905.9 1529.6L1897.7 1532L1889.1 1534.1L1882.3 1535.6L1875.1 1537.3L1867.6 1539L1860.1 1540.8L1852.8 1542.4L1845.9 1543.7L1839.5 1544.5L1831 1545.3L1822.9 1545.6L1815.4 1545.4L1808.8 1544.8L1803.8 1543.9L1797.4 1540.3L1792 1534.5L1784.1 1531L1775 1534L1766.8 1539.6L1758.7 1543.2L1752.7 1544L1745.6 1543.9L1738.1 1543.2L1730.8 1542.1L1723.5 1540.6L1715.9 1538.3L1708.3 1535.8L1700.7 1533.6L1690.2 1531.4L1680.2 1529.6L1673.1 1528.5Z" fill="#9aacaf" />
<circle cx="1760.5" cy="1513.5" r="26" fill="#ff22ff"/>
<circle cx="1808" cy="1513.5" r="26" fill="#ff22ff"/>
<path d="M1760.5 1513.5L1808 1513.5" stroke="#e8187c" stroke-width="21" fill="none"/>
<path d="M1701.6 1574.9L1706.7 1575.9L1714.1 1577.3L1721.6 1578.2L1728.1 1578.4L1734.3 1578L1740.2 1577.1L1745.6 1575.5L1750.1 1573.6L1753.5 1572.3L1756.7 1571.6L1759.8 1571.2L1762.1 1570.9L1760.6 1560L1758.3 1560.3L1754.7 1560.8L1750.5 1561.7L1746.1 1563.2L1741.9 1564.8L1737.8 1565.9L1733.1 1566.5L1727.9 1566.9L1722.4 1566.8L1715.9 1565.9L1708.9 1564.6L1703.8 1563.7Z" fill="#1c1b1c" />
<polygon points="1747.4,1556.5 1779,1551.4 1765.3,1582.2 1761.3,1565.4" fill="#1c1b1c"/>
<path d="M1852.8 1560L1849.8 1561.7L1845.8 1563.9L1841.9 1565.6L1838.7 1566.7L1835.7 1567.3L1833 1567.3L1829.1 1566.2L1824 1564L1819 1561.9L1814.6 1560.4L1811 1559.3L1808.5 1558.6L1805.5 1569.2L1807.8 1569.9L1811.3 1570.9L1815 1572.1L1819.5 1574.2L1825 1576.8L1831 1578.7L1836.8 1578.8L1841.6 1577.8L1846.1 1576.4L1850.9 1574.2L1855.4 1571.7L1858.4 1570Z" fill="#1c1b1c" />
<polygon points="1821,1554.5 1790.7,1550.5 1802.2,1580.8 1807,1563.9" fill="#1c1b1c"/>
<path d="M1044.3 2155.2L1040.9 2151.6L1035.9 2146.6L1030.3 2140.7L1024.6 2134.2L1020.9 2129.6L1016.9 2124.6L1012.8 2119.2L1008.5 2113.4L1004.2 2107.3L999.8 2100.8L995.8 2094.9L991.6 2088.4L987.3 2081.6L983 2074.6L978.7 2067.6L974.6 2060.8L970.6 2054.2L966.1 2047.1L961.8 2040.5L957.7 2034.2L954 2028.1L950.8 2022.1L948.1 2015.7L945.6 2008.8L943.4 2001.7L941.6 1994.4L940.3 1987.2L939.5 1980.1L939.4 1973L939.8 1965.8L940.6 1958.4L941.9 1951.1L943.9 1944L946.6 1937.1L950.2 1930.5L953.5 1925.7L957.6 1920.6L962.1 1915.6L967.1 1910.6L972.5 1905.8L978.2 1901.3L984 1897.1L990 1893.3L995.6 1890.2L1001.6 1887.3L1007.9 1884.5L1014.5 1882L1021.2 1879.7L1027.8 1877.7L1034.4 1876.1L1040.8 1874.8L1046.7 1874L1054.3 1873.4L1061.7 1873.4L1069 1873.9L1076.2 1875L1083.1 1876.5L1089.7 1878.6L1096 1881.1L1102.1 1884.3L1108 1888.1L1113.9 1892.7L1119.5 1897.6L1124.8 1902.9L1129.5 1908.2L1133.7 1913.4L1137.6 1919.7L1140.9 1926.3L1143.6 1933.2L1145.9 1940.3L1147.8 1947.5L1149.3 1954.3L1150.7 1962.1L1151.4 1969.7L1151.6 1977.3L1151.4 1984.8L1150.8 1992.2L1150.1 1999.4L1149 2006.3L1147.6 2013L1145.6 2019.7L1143 2026.5L1140.4 2032.2L1137.3 2038L1133.7 2044L1129.8 2050L1125.5 2056.1L1121.1 2062.1L1117 2067.3L1112.4 2072.5L1107.5 2077.9L1102.5 2083.2L1097.6 2088.6L1092.8 2093.8L1088.4 2098.8L1083 2105.5L1077.9 2111.8L1073.2 2118L1068.9 2123.9L1065 2129.7L1059.8 2139.2L1056 2147.8L1053.6 2153.7L1061.8 2157.3L1064.5 2151.7L1068.4 2143.6L1073.6 2134.9L1077.2 2129.8L1081.4 2124.3L1086.1 2118.5L1091.3 2112.4L1096.8 2106L1101 2101.3L1105.8 2096.3L1110.8 2091.1L1116 2085.8L1121.1 2080.4L1126 2074.9L1130.5 2069.5L1135.3 2063.3L1139.9 2057L1144.2 2050.8L1148.2 2044.4L1151.8 2038L1155 2031.5L1157.9 2023.9L1160.2 2016.3L1161.8 2008.7L1163 2001.1L1163.8 1993.4L1164.3 1985.5L1164.6 1977.3L1164.4 1969L1163.6 1960.4L1162.1 1951.7L1160.4 1944.3L1158.4 1936.7L1155.9 1928.9L1152.8 1921L1149 1913.3L1144.3 1906L1139.7 1899.9L1134.5 1893.8L1128.8 1887.9L1122.6 1882.3L1116.1 1877L1109.1 1872.4L1102 1868.5L1094.6 1865.3L1086.9 1862.8L1079 1860.8L1070.8 1859.5L1062.4 1858.7L1053.8 1858.5L1045.3 1859L1038.3 1859.9L1031.2 1861.2L1023.9 1862.9L1016.6 1865L1009.3 1867.3L1002.1 1870L995.1 1872.9L988.3 1876.1L982 1879.5L975.2 1883.6L968.5 1888.2L962.1 1893.2L955.9 1898.5L950.2 1904L944.9 1909.7L940.1 1915.5L935.8 1921.5L931.2 1929.7L927.6 1938.2L924.9 1946.9L923.1 1955.6L922 1964.1L921.4 1972.6L921.5 1981.2L922.5 1989.8L924 1998.2L926.1 2006.5L928.5 2014.5L931.3 2022.3L934.6 2029.8L938.4 2037L942.4 2043.7L946.7 2050.3L951 2056.9L955.4 2063.8L959.4 2070.1L963.6 2076.9L968.1 2083.9L972.6 2091L977.2 2097.9L981.6 2104.5L986 2110.6L990.9 2117.1L995.9 2123.2L1000.7 2128.9L1005.4 2134.2L1009.9 2139.1L1014.4 2143.8L1021.2 2150.1L1027.9 2155.6L1033.6 2159.9L1037.7 2162.8Z" fill="#9aacaf" />
<circle cx="1041" cy="2159" r="5" fill="#9aacaf" />
<circle cx="1057.7" cy="2155.5" r="4.5" fill="#9aacaf" />
<path d="M1349.6 2156.2L1349.5 2149.1L1348.4 2138.8L1345.4 2128.1L1339.5 2119.2L1332.4 2111.4L1324.2 2104.2L1316.5 2099.3L1308.6 2095.3L1301.5 2091.5L1295.2 2086.9L1290.1 2082.5L1284.6 2077.4L1279.7 2072.2L1275.6 2066.7L1272.4 2060.8L1270.3 2055.3L1268.4 2048.7L1266.9 2041.5L1265.9 2034L1265.3 2026.5L1265.2 2019.5L1265.3 2012.7L1265.9 2005.8L1266.9 1999L1268.4 1992.4L1270.3 1986.2L1272.5 1980.7L1276 1974.4L1280.1 1968.4L1285 1962.9L1290.5 1957.8L1296.6 1953.2L1302.2 1949.7L1308.5 1946.5L1315.3 1943.6L1322.1 1941.2L1328.9 1939.6L1335.3 1938.8L1341.7 1938.8L1348.6 1939.6L1355.6 1941.1L1362.5 1943.2L1369.1 1945.7L1375.1 1948.6L1380.6 1952L1385.9 1955.8L1390.9 1960.2L1395.5 1964.9L1399.6 1970.1L1403.2 1975.5L1406.2 1981.4L1408.8 1988.1L1411 1995.3L1412.7 2002.6L1414 2009.7L1414.8 2016.4L1415.1 2023.7L1414.6 2030.7L1413.5 2037.6L1412 2044.4L1410 2051.1L1407.8 2057.7L1405 2064.2L1401.7 2070.7L1398.2 2077.1L1394.4 2083.3L1390.2 2089.4L1385.6 2095.5L1380.7 2101.5L1375.8 2107.4L1371.4 2113L1366.6 2119.5L1362.2 2125.6L1358.2 2131.4L1354.8 2137.1L1351.5 2144.7L1349.5 2151.4L1348.3 2156L1355.1 2158L1356.5 2153.6L1358.7 2147.4L1361.8 2140.9L1365 2136L1369 2130.6L1373.6 2124.8L1378.6 2118.4L1382.8 2113L1387.6 2107.2L1392.6 2101.1L1397.5 2094.7L1402 2088.3L1406.1 2081.8L1410 2075.2L1413.6 2068.4L1416.9 2061.3L1419.6 2054.1L1421.7 2046.9L1423.4 2039.5L1424.5 2031.8L1425.1 2023.9L1424.8 2015.6L1424 2008.3L1422.8 2000.6L1421.2 1992.7L1418.9 1984.8L1416.2 1977.2L1412.8 1970.1L1408.9 1963.6L1404.4 1957.5L1399.4 1951.7L1393.8 1946.4L1387.9 1941.6L1381.5 1937.4L1374.7 1933.6L1367.2 1930.4L1359.4 1927.6L1351.2 1925.5L1343 1924.2L1334.7 1923.8L1326.4 1924.5L1318.1 1926.1L1309.9 1928.5L1301.9 1931.5L1294.4 1935L1287.4 1938.8L1279.7 1943.8L1272.5 1949.7L1265.8 1956.2L1259.9 1963.5L1254.9 1971.3L1251.3 1978.6L1248.3 1986.3L1245.9 1994.3L1244.1 2002.5L1242.9 2010.8L1242.2 2019.1L1242.3 2027.6L1243 2036.4L1244.2 2045.3L1246 2054.1L1248.4 2062.6L1251.6 2070.8L1256.6 2079.4L1262.6 2087L1269.1 2093.5L1275.5 2099.2L1282 2104.5L1290.6 2110L1299.4 2114.1L1306.8 2117.4L1312.8 2120.6L1320.2 2125.6L1326.6 2130.7L1331.4 2135.9L1335.7 2142.9L1339.1 2151.5L1341.8 2157.8Z" fill="#9aacaf" />
<circle cx="1345.7" cy="2157" r="4" fill="#9aacaf" />
<circle cx="1351.7" cy="2157" r="3.5" fill="#9aacaf" />
<path d="M882.9 2185.9L887.6 2186.6L894 2187.6L901.7 2188.6L909.8 2189.8L917.7 2190.9L924.7 2192L931.9 2193.3L938.6 2194.6L945.1 2195.9L952 2197.2L959.6 2198.5L966.8 2199.5L974.5 2200.6L982.7 2201.7L990.8 2202.6L998.7 2203.3L1006.2 2203.7L1016.7 2203L1026.7 2201.5L1035.1 2200L1040.9 2198.9L1039.1 2189.1L1033.3 2190.1L1025.1 2191.6L1015.6 2193L1005.8 2193.7L999.1 2193.8L991.5 2193.6L983.5 2193.2L975.4 2192.7L967.6 2192.1L960.4 2191.5L952.8 2190.9L946 2190.2L939.4 2189.5L932.6 2188.7L925.3 2188L918.1 2187.4L910.1 2186.8L901.9 2186.1L894.3 2185.6L887.7 2185.1L883.1 2184.9Z" fill="#9aacaf" />
<circle cx="1040" cy="2194" r="5" fill="#9aacaf" />
<path d="M904.9 2192.5L909.7 2193.5L916.3 2195L924.2 2196.6L932.8 2198.3L941.5 2200L949.8 2201.5L957.1 2202.5L965.2 2203.5L973.5 2204.5L981.6 2205.4L989 2206.3L995.3 2207L999.8 2207.5L1000.2 2204.5L995.6 2204L989.4 2203.3L982 2202.5L973.9 2201.5L965.6 2200.5L957.5 2199.5L950.2 2198.5L941.9 2197.4L933.2 2196L924.6 2194.6L916.6 2193.3L910 2192.2L905.1 2191.5Z" fill="#9aacaf" />
<circle cx="1000" cy="2206" r="1.5" fill="#9aacaf" />
<path d="M1068.5 2196.7L1073.5 2199.3L1081.1 2203L1090 2206.4L1099.3 2208L1108 2205.7L1115.4 2201.7L1121.8 2197.6L1127.7 2194.6L1136 2191.9L1144.3 2189.9L1152.5 2189L1160.7 2189.6L1168.8 2191.3L1176.9 2194.1L1182.8 2197.3L1189 2201.6L1195.7 2206.3L1202.6 2210.6L1209.4 2214.3L1216.2 2217.7L1223.1 2220.8L1230.3 2223.3L1239.5 2225.6L1248.8 2226.9L1258.8 2227.3L1267.3 2226.9L1276.4 2226L1285.5 2224.5L1294.2 2222.5L1302.3 2219.7L1309.9 2216.4L1316.8 2212.7L1323.3 2209L1330.7 2202.6L1337 2196.1L1341 2191.5L1333 2182.5L1328 2185.8L1321.2 2190.6L1313.7 2195L1308.4 2198.5L1302.5 2202.2L1296.3 2205.5L1289.8 2208.1L1282.5 2210.1L1274.3 2211.7L1266.1 2212.7L1258.6 2213.3L1249.8 2213.3L1241.8 2212.5L1233.7 2210.7L1227.6 2208.8L1221.3 2206.3L1214.9 2203.4L1208.4 2200.2L1202.1 2196.4L1195.5 2192L1188.5 2187.6L1181.1 2183.9L1171.5 2180.9L1161.9 2179.3L1152.3 2179L1142.7 2179.7L1133.3 2181.6L1123.9 2184.4L1116.5 2187.7L1109.7 2191.7L1103.7 2194.8L1098.7 2196L1092.5 2195.7L1084.6 2193.6L1077 2191L1071.5 2189.3Z" fill="#9aacaf" />
<circle cx="1070" cy="2193" r="4" fill="#9aacaf" />
<circle cx="1337" cy="2187" r="6" fill="#9aacaf" />
<path d="M1371.5 2189L1377.2 2189.8L1385.5 2191L1394.6 2192.5L1400.7 2193.5L1406.9 2194.5L1414.4 2195.8L1424.7 2197.4L1430.8 2198.2L1438.3 2199.2L1446.6 2200.2L1455.3 2201.4L1464 2202.5L1472.4 2203.6L1480 2204.6L1486.3 2205.4L1490.9 2205.9L1491.1 2204.9L1486.5 2204L1480.2 2202.9L1472.7 2201.6L1464.4 2200.2L1455.7 2198.8L1447 2197.3L1438.8 2195.9L1431.4 2194.6L1425.3 2193.4L1415.2 2191.6L1407.7 2190.1L1401.6 2188.8L1395.4 2187.5L1386.4 2185.8L1378.2 2184.2L1372.5 2183Z" fill="#9aacaf" />
<circle cx="1372" cy="2186" r="3" fill="#9aacaf" />
<circle cx="1019.5" cy="2170.5" r="25.5" fill="#ff22ff"/>
<circle cx="1074.3" cy="2167.2" r="25.5" fill="#ff22ff"/>
<path d="M1022.5 2170.3L1071.3 2167.4" stroke="#e8187c" stroke-width="19" fill="none"/>
<circle cx="1320.5" cy="2167" r="26" fill="#ff22ff"/>
<circle cx="1375" cy="2163.5" r="26" fill="#ff22ff"/>
<path d="M1323.5 2166.8L1372 2163.7" stroke="#e8187c" stroke-width="19" fill="none"/>
<path d="M967.1 2231.5L971.8 2232.2L978.7 2233.1L985.6 2233.7L991.8 2233.9L997.9 2233.8L1004.2 2233.1L1010.3 2231.4L1015.6 2229.3L1019.6 2227.8L1022.8 2227.2L1025.8 2226.8L1028 2226.6L1026.9 2214.7L1024.6 2214.9L1021 2215.3L1016.4 2216.2L1011.4 2217.9L1006.4 2219.7L1001.8 2220.9L997.1 2221.4L991.9 2221.5L986.4 2221.3L980.1 2220.7L973.6 2219.8L968.9 2219.1Z" fill="#1c1b1c" />
<polygon points="1016,2211 1044.4,2207 1029.4,2238 1027.5,2220.7" fill="#1c1b1c"/>
<path d="M1117.9 2214.8L1114.6 2216.5L1109.9 2218.9L1105.8 2220.7L1102.6 2221.7L1100 2222.3L1097.5 2222.4L1094.3 2221.9L1090.3 2220.7L1085.9 2219.3L1081 2217.7L1076.1 2215.9L1072.6 2214.6L1068.5 2225.9L1072 2227.2L1077.1 2229L1082.1 2230.7L1086.6 2232.3L1091.4 2233.9L1096.5 2234.8L1101.5 2234.7L1105.9 2233.7L1110.2 2232.3L1115.3 2230.2L1120.3 2227.6L1123.7 2225.8Z" fill="#1c1b1c" />
<polygon points="1082.6,2211 1054.4,2207 1067.6,2237 1070.5,2220.3" fill="#1c1b1c"/>
<path d="M1290.2 2251.7L1294.3 2250.7L1300.2 2249.2L1306.2 2247.4L1311.6 2245.3L1316.9 2243L1321.9 2240.3L1326.5 2237.1L1330.4 2234L1333.8 2231.3L1337.4 2228.9L1341 2226.5L1343.5 2224.9L1336.5 2214L1334 2215.6L1330.2 2218L1326.2 2220.7L1322.3 2223.6L1318.7 2226.4L1315.1 2228.7L1311 2230.8L1306.4 2232.8L1301.8 2234.6L1296.5 2236.2L1291 2237.7L1287 2238.7Z" fill="#1c1b1c" />
<polygon points="1323.5,2216 1351.7,2200.4 1350,2233.6 1340,2219.4" fill="#1c1b1c"/>
<path d="M1431.7 2213.5L1427.9 2213.2L1422.5 2212.9L1417.3 2212.6L1413.3 2212.3L1409.6 2212.1L1405.5 2211.8L1399.7 2211.1L1393.4 2210.2L1388.9 2209.5L1387.4 2219.9L1391.9 2220.6L1398.3 2221.5L1404.3 2222.2L1408.8 2222.6L1412.7 2222.8L1416.7 2223L1421.8 2223.4L1427.3 2223.7L1431.1 2223.9Z" fill="#1c1b1c" />
<polygon points="1399.9,2204.4 1370,2205.4 1386.6,2230.3 1388.1,2214.7" fill="#1c1b1c"/>
<path d="M1448 2115.7 L1577 2113.7 Q1571 2104 1557 2083.7 L1629 2120.7 L1557 2157.7 Q1571 2137.3 1577 2127.7 L1448 2125.7 Z" fill="#464e50"/>
<circle cx="1448" cy="2120.7" r="5" fill="#464e50"/>
<path d="M1812.3 2156.6L1811.4 2153.1L1809.4 2147.4L1804.2 2139.5L1799.7 2134.4L1794.4 2129.1L1788.4 2123.5L1782.4 2117.6L1776.6 2111.1L1771.3 2104.1L1767.9 2099L1764.3 2093.3L1760.6 2087.2L1756.9 2080.8L1753.3 2074.3L1750 2067.6L1746.9 2061.1L1744.2 2054.7L1741.9 2048.6L1739.5 2041.9L1737.4 2035.2L1735.6 2028.4L1734.1 2021.8L1732.9 2015.2L1732.1 2008.7L1731.6 2002.3L1731.5 1996.1L1731.7 1989.1L1732.3 1982.1L1733.4 1975.2L1734.9 1968.3L1736.8 1961.6L1739 1955L1741.7 1948.6L1744.7 1942.3L1748.2 1936L1752 1929.8L1756.2 1923.9L1760.7 1918.4L1765.5 1913.4L1770.5 1909L1776.1 1905L1782.4 1901.3L1789.1 1898L1796.2 1895.1L1803.3 1892.7L1810.3 1890.8L1816.9 1889.4L1824.4 1888.7L1831.9 1888.6L1839.4 1889.3L1846.8 1890.5L1854 1892.3L1860.8 1894.6L1867.4 1897.5L1874 1901.1L1880.4 1905.3L1886.5 1909.9L1892.1 1914.8L1896.9 1919.6L1901.9 1925.7L1906.3 1932.1L1909.8 1938.7L1912.4 1945.6L1914.1 1952.7L1914.5 1958.7L1914.1 1965.2L1913.1 1972L1911.5 1979.3L1909.7 1986.9L1907.7 1994.8L1905.7 2001.9L1903.5 2009.3L1901.1 2016.9L1898.5 2024.7L1895.7 2032.4L1892.8 2040L1889.9 2047.2L1886.7 2054.3L1883.2 2061.3L1879.6 2068.3L1875.9 2075.3L1872.2 2082.1L1868.9 2088.7L1865.9 2095.2L1862.3 2104L1859.2 2112.4L1856.6 2120.4L1854.4 2127.6L1852.6 2134L1851 2142.2L1850.6 2148.2L1850.5 2151.9L1859.5 2152.1L1859.6 2148.6L1859.9 2143.5L1861.4 2136L1863 2130.2L1865.2 2123.2L1867.7 2115.4L1870.7 2107.2L1874.1 2098.8L1877 2092.7L1880.2 2086.2L1883.8 2079.5L1887.5 2072.6L1891.3 2065.4L1894.9 2058.1L1898.1 2050.8L1901.2 2043.3L1904.1 2035.5L1907 2027.7L1909.6 2019.8L1912.1 2012L1914.4 2004.4L1916.3 1997.2L1918.5 1989.2L1920.6 1981.5L1922.4 1973.8L1923.7 1966.3L1924.3 1958.8L1923.9 1951.3L1922.2 1942.7L1919.3 1934.5L1915.4 1926.7L1910.6 1919.3L1905.1 1912.4L1899.8 1906.7L1893.8 1901.2L1887.2 1896L1880.1 1891.1L1872.8 1886.9L1865.2 1883.4L1857.5 1880.7L1849.4 1878.5L1841.1 1876.9L1832.5 1876L1823.8 1875.8L1815.1 1876.6L1807.4 1877.8L1799.5 1879.7L1791.5 1882.1L1783.5 1885L1775.8 1888.5L1768.4 1892.5L1761.5 1897L1755.1 1902.1L1749.2 1907.9L1743.8 1914.1L1738.7 1920.6L1734.1 1927.4L1730 1934.4L1726.3 1941.4L1723 1948.5L1720.1 1956L1717.6 1963.6L1715.6 1971.5L1714 1979.5L1713 1987.7L1712.5 1995.9L1712.6 2003.2L1713.2 2010.6L1714.1 2018L1715.4 2025.5L1717.1 2033L1719.1 2040.5L1721.5 2047.9L1724.1 2055.4L1727.1 2062.1L1730.4 2069L1734 2075.9L1737.9 2082.8L1741.9 2089.6L1746.1 2096.1L1750.3 2102.4L1754.5 2108.3L1758.7 2113.9L1765.4 2121.3L1772.5 2127.9L1779.6 2133.7L1786.1 2138.7L1791.7 2143L1795.8 2146.5L1800.5 2152.6L1802.4 2156.5L1803.7 2159.4Z" fill="#9aacaf" />
<circle cx="1808" cy="2158" r="4.5" fill="#9aacaf" />
<circle cx="1855" cy="2152" r="4.5" fill="#9aacaf" />
<path d="M1874.3 1921.3L1870.5 1924.2L1865.2 1928.7L1860.2 1934L1855.9 1939.4L1851.8 1945.8L1848.2 1954.6L1846.5 1961.8L1844.9 1970L1843.6 1978.9L1842.8 1987.8L1842.5 1996.2L1843.5 2006L1845.5 2015.3L1847.9 2023.8L1850.2 2031.5L1853.6 2040.4L1857.2 2047.9L1860.5 2053.9L1863.7 2057.9L1866.6 2060.2L1868.5 2061.4L1871.5 2058.6L1870.5 2056.7L1869.2 2054.1L1867.5 2050.1L1865.1 2044.4L1862.3 2037.1L1859.8 2028.5L1857.8 2021.1L1855.7 2012.9L1854.2 2004.4L1853.5 1995.8L1853.5 1988.4L1854.2 1980.1L1855.2 1971.6L1856.5 1963.8L1857.8 1957.4L1860 1949.4L1862.7 1943.6L1865.8 1938L1869.3 1932.1L1873.2 1926.6L1875.7 1922.7Z" fill="#9aacaf" />
<circle cx="1870" cy="2060" r="2" fill="#9aacaf" />
<path d="M1909.8 1888.3L1914 1887L1919.7 1885L1925.9 1883.6L1931.3 1882.2L1936.4 1881.3L1944.1 1882.4L1949.4 1884L1956.2 1886L1963.5 1888.6L1971 1891.8L1978.1 1895.4L1984.5 1899.6L1989.9 1903.8L1995.6 1908.8L2001.2 1914.3L2006.6 1920.1L2011.5 1926.1L2015.8 1932L2019.2 1937.5L2022.5 1943.7L2025.1 1950L2027 1956.4L2028.3 1963L2029.1 1969.9L2029.5 1977.1L2029.6 1983.4L2029.2 1989.9L2028.4 1996.6L2027.3 2003.5L2025.7 2010.5L2023.8 2017.5L2021.5 2024.5L2019.1 2030.6L2016.3 2037L2013 2043.5L2009.5 2050.1L2005.8 2056.6L2002 2063L1998.2 2069.1L1994.5 2074.8L1990.1 2081L1985.3 2086.9L1980.2 2092.8L1975.2 2098.4L1970.4 2103.7L1966.1 2108.6L1962.4 2113.3L1956.5 2121.5L1952.8 2127.9L1950.6 2134.1L1950.3 2140.7L1951.7 2146.1L1952.7 2149.4L1961.3 2146.6L1960.3 2143.6L1959.3 2139.8L1959.4 2135.9L1961 2131.7L1964 2126.4L1969.6 2118.7L1973.1 2114.7L1977.5 2110.2L1982.4 2105.1L1987.7 2099.6L1993.2 2093.8L1998.5 2087.6L2003.5 2081.2L2007.7 2075.4L2011.9 2069.3L2016.2 2063L2020.3 2056.4L2024.3 2049.7L2028.1 2043L2031.5 2036.2L2034.5 2029.5L2037.5 2022L2040 2014.5L2042.2 2006.9L2043.9 1999.3L2045.2 1991.8L2046.1 1984.3L2046.5 1976.9L2046.3 1968.6L2045.5 1960.5L2044 1952.4L2041.8 1944.3L2038.8 1936.3L2034.8 1928.5L2030.3 1921.8L2025.1 1915.1L2019.3 1908.6L2013.1 1902.3L2006.6 1896.5L2000.1 1891.1L1993.5 1886.4L1985.4 1881.8L1976.9 1878L1968.4 1875L1960.2 1872.6L1952.7 1870.9L1945.9 1869.6L1935.7 1869.3L1928.1 1871.6L1922.1 1874.4L1916.3 1878.2L1911.3 1882.5L1908.2 1885.7Z" fill="#9aacaf" />
<circle cx="1909" cy="1887" r="1.5" fill="#9aacaf" />
<circle cx="1957" cy="2148" r="4.5" fill="#9aacaf" />
<path d="M1689.2 2176.5L1695.3 2174.1L1704.1 2170.5L1713.4 2167.1L1721.4 2165.5L1729.7 2165.7L1736.9 2167.9L1743.7 2172.2L1747.3 2176.2L1751.2 2181.9L1755.2 2188.5L1759.5 2195.3L1764.3 2201.4L1770.6 2208.1L1777.3 2214.5L1784.6 2219.9L1793.3 2223.5L1804.7 2222.3L1814.9 2217.4L1823.2 2211.3L1828.2 2203.1L1830.7 2194.8L1831.8 2189.3L1824.2 2186.7L1821.9 2191.7L1818.8 2198.1L1814.8 2202.7L1808.8 2206.7L1801.3 2210L1794.7 2210.5L1790.4 2209.1L1784.4 2205.4L1777.9 2200.2L1771.7 2194.6L1767.2 2189.6L1762.9 2183.5L1758.5 2176.9L1753.7 2170.8L1748.3 2165.8L1739.4 2161.3L1730.2 2159.8L1720.6 2160.5L1712.1 2163.3L1702.8 2167.8L1694.5 2172.3L1688.8 2175.5Z" fill="#9aacaf" />
<circle cx="1828" cy="2188" r="4" fill="#9aacaf" />
<path d="M1856.1 2193.9L1861.2 2195.6L1869 2198L1878.7 2199.5L1886.2 2199.5L1894.9 2199.3L1903.8 2198.6L1911.9 2197.7L1918.5 2196.1L1923.8 2191L1924.1 2185.1L1923.5 2181.8L1918.5 2182.2L1918.4 2185.1L1918.2 2188L1915.5 2189.9L1910.8 2190.8L1903.2 2191.7L1894.5 2192.3L1886.1 2192.5L1879.3 2192.5L1870.3 2191.5L1863 2189.6L1857.9 2188.1Z" fill="#9aacaf" />
<circle cx="1857" cy="2191" r="3" fill="#9aacaf" />
<circle cx="1921" cy="2182" r="2.5" fill="#9aacaf" />
<path d="M1943.6 2182.2L1948.9 2184.7L1956.9 2188.3L1966.4 2190.9L1974.6 2191.3L1983.2 2190.8L1991.4 2190.4L1998 2190.9L2004.2 2193.6L2010.3 2197.9L2019.8 2201.8L2026.8 2203L2034.6 2203.9L2043 2204.7L2051.6 2205.2L2060.1 2205.5L2068 2205.5L2077.4 2204.8L2087 2203.5L2096 2202L2103.6 2200.6L2109.1 2199.5L2108.9 2198.5L2103.4 2198.8L2095.7 2199.5L2086.6 2200.2L2077.1 2200.6L2068 2200.5L2060.4 2200L2052.1 2199.2L2043.7 2198.2L2035.5 2197L2028.1 2195.6L2022.2 2194.2L2014.1 2190.8L2008.1 2186.6L2000 2183.1L1991.5 2182.4L1982.8 2182.8L1974.5 2183.3L1967.6 2183.1L1959.3 2181L1951.8 2178L1946.4 2175.8Z" fill="#9aacaf" />
<circle cx="1945" cy="2179" r="3.5" fill="#9aacaf" />
<circle cx="1800" cy="2168" r="25" fill="#ff22ff"/>
<circle cx="1855" cy="2164" r="25" fill="#ff22ff"/>
<path d="M1804 2167.7L1851 2164.3" stroke="#e8187c" stroke-width="19" fill="none"/>
<circle cx="1910" cy="2156" r="25" fill="#ff22ff"/>
<circle cx="1966" cy="2153" r="25" fill="#ff22ff"/>
<path d="M1914 2155.8L1962 2153.2" stroke="#e8187c" stroke-width="19" fill="none"/>
<defs>
<filter id="b6" x="-30%" y="-30%" width="160%" height="160%"><feGaussianBlur stdDeviation="6"/></filter>
<filter id="b9" x="-30%" y="-30%" width="160%" height="160%"><feGaussianBlur stdDeviation="9"/></filter>
<filter id="b14" x="-30%" y="-30%" width="160%" height="160%"><feGaussianBlur stdDeviation="14"/></filter>
<clipPath id="cTL"><rect x="2617" y="295" width="287" height="538"/></clipPath>
<clipPath id="cTR"><rect x="2907" y="300" width="287" height="533"/></clipPath>
<clipPath id="cBL"><rect x="2617" y="833" width="287" height="537.5"/></clipPath>
<clipPath id="cBR"><rect x="2907" y="833" width="287" height="535"/></clipPath>
</defs>
<rect x="2592" y="282" width="623" height="1107.5" fill="#171719"/>
<rect x="2617" y="295" width="287" height="1075.5" fill="#070909"/>
<rect x="2907" y="300" width="287" height="1068" fill="#070909"/>
<rect x="2904" y="256" width="1.6" height="1114" fill="#8fa5a8"/>
<rect x="2904" y="282" width="3" height="1088" fill="#1a1c1d"/>
<g clip-path="url(#cTL)">
<path d="M2704 300L2715 360L2745 425L2775 490L2790 550L2812 610L2838 680L2866 740L2895 835" stroke="#485151" stroke-width="34" fill="none" filter="url(#b14)" stroke-linecap="round"/>
<g filter="url(#b6)">
<circle cx="2709" cy="333" r="15" fill="#ffffff"/>
<circle cx="2700" cy="306" r="9" fill="#7f8a8a"/>
<circle cx="2706" cy="362" r="9" fill="#6a7575"/>
<circle cx="2712" cy="400" r="8" fill="#444d4d"/>
<circle cx="2746" cy="426" r="13" fill="#aab3b3"/>
<circle cx="2760" cy="453" r="9" fill="#6f7a7a"/>
<circle cx="2772" cy="483" r="12" fill="#b0baba"/>
<circle cx="2783" cy="503" r="9" fill="#8a9494"/>
<circle cx="2786" cy="540" r="12" fill="#b5bebe"/>
<circle cx="2799" cy="586" r="11" fill="#a0aaaa"/>
<circle cx="2812" cy="609" r="9" fill="#8a9494"/>
<circle cx="2829" cy="639" r="12" fill="#e0e8e8"/>
<circle cx="2839" cy="679" r="13" fill="#f4f8f8"/>
<circle cx="2852" cy="715" r="10" fill="#a0aaaa"/>
<circle cx="2875" cy="722" r="13" fill="#e8eeee"/>
<circle cx="2865" cy="748" r="10" fill="#9aa4a4"/>
<circle cx="2882" cy="763" r="12" fill="#dfe6e6"/>
<circle cx="2842" cy="766" r="10" fill="#a8b2b2"/>
<circle cx="2859" cy="740" r="9" fill="#8a9494"/>
<circle cx="2865" cy="800" r="9" fill="#6a7474"/>
<circle cx="2892" cy="816" r="10" fill="#7a8484"/>
<circle cx="2839" cy="506" r="11" fill="#9aa4a4"/>
<circle cx="2866" cy="506" r="8" fill="#596363"/>
<circle cx="2895" cy="423" r="13" fill="#b8c2c2"/>
<circle cx="2866" cy="438" r="7" fill="#3d4646"/>
<circle cx="2824" cy="452" r="6" fill="#3a4343"/>
<circle cx="2740" cy="487" r="6" fill="#3a4343"/>
<circle cx="2900" cy="625" r="7" fill="#4a5353"/>
<circle cx="2850" cy="790" r="8" fill="#5a6464"/>
<circle cx="2880" cy="690" r="7" fill="#3a4343"/>
</g></g>
<defs><filter id="b10" x="-30%" y="-30%" width="160%" height="160%"><feGaussianBlur stdDeviation="10"/></filter></defs>
<g clip-path="url(#cTR)">
<g filter="url(#b10)">
<path d="M2990 300L2989 362L3010 396" stroke="#8f9b9b" stroke-width="18" fill="none" stroke-linecap="round" stroke-linejoin="round"/>
<path d="M3022 410L3042 434L3057 470L3073 506L3087 542L3102 578L3113 614L3123 650L3138 686L3150 722L3163 758L3178 795L3197 845" stroke="#8f9b9b" stroke-width="53" fill="none" stroke-linecap="round" stroke-linejoin="round"/>
<path d="M3110 427L3205 426" stroke="#616c6c" stroke-width="15" fill="none"/>
</g><g filter="url(#b6)">
<circle cx="2990" cy="326" r="11" fill="#b2bcbc"/>
<circle cx="2987" cy="358" r="9" fill="#a9b3b3"/>
<circle cx="3058" cy="420" r="9" fill="#b0baba"/>
<circle cx="3077" cy="485" r="10" fill="#d4dcdc"/>
<circle cx="3059" cy="513" r="9" fill="#b8c2c2"/>
<circle cx="3102" cy="578" r="9" fill="#bcc6c6"/>
<circle cx="3080" cy="596" r="8" fill="#b0baba"/>
<circle cx="3105" cy="654" r="9" fill="#c4cdcd"/>
<circle cx="3131" cy="640" r="8" fill="#b0baba"/>
<circle cx="3120" cy="697" r="8" fill="#b4bebe"/>
<circle cx="3141" cy="708" r="8" fill="#b8c2c2"/>
<circle cx="3167" cy="787" r="9" fill="#c4cdcd"/>
<circle cx="3185" cy="809" r="8" fill="#b8c2c2"/>
<circle cx="3090" cy="545" r="8" fill="#b4bebe"/>
<circle cx="3150" cy="745" r="8" fill="#b4bebe"/>
<circle cx="3040" cy="450" r="8" fill="#a8b2b2"/>
</g></g>
<g clip-path="url(#cBL)">
<g filter="url(#b14)">
<path d="M2712 820L2726 880L2744 940" stroke="#1313e6" stroke-width="30" fill="none" stroke-linecap="round"/>
<path d="M2738 930L2762 1000L2800 1090" stroke="#1313e6" stroke-width="74" fill="none" stroke-linecap="round" stroke-linejoin="round"/>
<path d="M2790 1060L2806 1100L2835 1180L2872 1280L2910 1380" stroke="#1313e6" stroke-width="100" fill="none" stroke-linecap="round" stroke-linejoin="round"/>
<path d="M2750 953L2915 953" stroke="#1a22ee" stroke-width="52" fill="none"/>
</g><g filter="url(#b9)">
<path d="M2712 860L2728 930L2752 1000L2784 1080L2814 1160L2846 1240L2874 1310L2896 1372" stroke="#a62ee4" stroke-width="36" fill="none" stroke-linecap="round" stroke-linejoin="round" opacity="0.8"/>
<path d="M2770 938L2905 940" stroke="#4a6cff" stroke-width="18" fill="none"/>
<circle cx="2897" cy="962" r="14" fill="#c9a0e8"/>
<circle cx="2721" cy="922" r="13" fill="#e238e8"/>
<circle cx="2740" cy="966" r="14" fill="#e238e8"/>
<circle cx="2790" cy="1024" r="13" fill="#e238e8"/>
<circle cx="2808" cy="1186" r="15" fill="#e238e8"/>
<circle cx="2836" cy="1222" r="12" fill="#e238e8"/>
<circle cx="2874" cy="1262" r="13" fill="#e238e8"/>
<circle cx="2886" cy="1334" r="14" fill="#e238e8"/>
<circle cx="2770" cy="1090" r="12" fill="#e238e8"/>
<circle cx="2850" cy="1300" r="12" fill="#e238e8"/>
<circle cx="2760" cy="960" r="10" fill="#4a6cff"/>
<circle cx="2800" cy="1120" r="12" fill="#4a6cff"/>
<circle cx="2820" cy="1140" r="10" fill="#4a6cff"/>
<circle cx="2860" cy="1230" r="10" fill="#4a6cff"/>
<circle cx="2838" cy="1290" r="10" fill="#4a6cff"/>
</g><g filter="url(#b6)">
<circle cx="2717" cy="877" r="17" fill="#a6ff6a"/>
<circle cx="2752" cy="935" r="9" fill="#7df0c8"/>
<circle cx="2746" cy="962" r="10" fill="#7aeec0"/>
<circle cx="2770" cy="1015" r="10" fill="#6fe8a0"/>
<circle cx="2776" cy="1036" r="8" fill="#6fe8a0"/>
<circle cx="2786" cy="1082" r="11" fill="#6fe090"/>
<circle cx="2827" cy="1176" r="11" fill="#70f0a8"/>
<circle cx="2837" cy="1213" r="15" fill="#7ffc9c"/>
<circle cx="2879" cy="1259" r="10" fill="#9af0a0"/>
<circle cx="2885" cy="1306" r="10" fill="#a0f0a0"/>
<circle cx="2820" cy="1152" r="8" fill="#60e0c0"/>
<circle cx="2839" cy="1046" r="11" fill="#1f8a14"/>
<circle cx="2866" cy="1049" r="8" fill="#176a10"/>
<circle cx="2856" cy="992" r="8" fill="#145a10"/>
<circle cx="2841" cy="1309" r="10" fill="#1d8a1a"/>
<circle cx="2899" cy="1163" r="9" fill="#1c7a14"/>
<circle cx="2901" cy="1216" r="9" fill="#1f8412"/>
<circle cx="2902" cy="1000" r="10" fill="#3a9a30"/>
<circle cx="2700" cy="838" r="7" fill="#2a7a20"/>
<circle cx="2828" cy="970" r="6" fill="#105010"/>
</g></g>
<g clip-path="url(#cBR)">
<g filter="url(#b14)">
<path d="M2996 815L3020 920L3051 1000L3088 1083" stroke="#c4cdcd" stroke-width="68" fill="none" stroke-linecap="round" stroke-linejoin="round"/>
<path d="M3080 1060L3123 1198L3160 1300L3190 1385" stroke="#c4cdcd" stroke-width="86" fill="none" stroke-linecap="round" stroke-linejoin="round"/>
<path d="M3060 948L3205 946" stroke="#f4f8f8" stroke-width="40" fill="none"/>
</g></g>
<rect x="2719" y="294" width="185" height="117" fill="#060808" stroke="#b4a8a8" stroke-width="1.6"/>
<text x="2814" y="341.5" font-size="56.5" font-weight="normal" fill="#74e43f" text-anchor="middle" >SMC3-</text>
<text x="2814" y="399.5" font-size="56.5" font-weight="normal" fill="#74e43f" text-anchor="middle" >GFP</text>
<rect x="3008" y="294" width="186" height="116.5" fill="#060808" stroke="#b4a8a8" stroke-width="1.6"/>
<text x="3103" y="341.5" font-size="56.5" font-weight="normal" fill="#b450dc" text-anchor="middle" >SMC2-</text>
<text x="3103.5" y="399.5" font-size="56.5" font-weight="normal" fill="#b450dc" text-anchor="middle" >Halo</text>
<rect x="2733.5" y="832" width="170.5" height="88" fill="#060808" stroke="#b4a8a8" stroke-width="1.6"/>
<text x="2819" y="893.5" font-size="53" font-weight="normal" fill="#fff0f0" text-anchor="middle" >Merge</text>
<rect x="3051" y="832" width="146" height="88" fill="#060808" stroke="#b4a8a8" stroke-width="1.6"/>
<text x="3123.5" y="893.5" font-size="52.5" font-weight="normal" fill="#86d3ea" text-anchor="middle" >DNA</text>
<rect x="2764.5" y="1136.5" width="150" height="95" fill="none" stroke="#d9dbdb" stroke-width="3.8" rx="2"/>
<rect x="2622.5" y="1262" width="8.3" height="105" fill="#ffffff"/>
<text x="2641" y="1358" font-size="52.5" font-weight="normal" fill="#c9caca" text-anchor="start" >1μm</text>
<path d="M2764 1233 L2395 1425 L2394 1421.5 L2764 1231.5Z" fill="#a7b8ba"/>
<path d="M2764 1232 L2592 1321" stroke="#cbb9b9" stroke-width="1.6"/>
<path d="M2915 1230 L3564.4 1424.5 L3564.4 1426 L2915 1235Z" fill="#a3b7ba"/>
<path d="M2595 1711.7L2595.3 1705.4L2595.9 1697.5L2600 1689.6L2603.2 1687.3L2608.7 1683.5L2615.3 1679.3L2622.6 1674.9L2630 1670.4L2636.9 1665.9L2643 1661.2L2650.3 1653.9L2656.4 1646.6L2661.1 1638.2L2663.9 1628.6L2663.8 1619.5L2662.2 1611.1L2659.7 1603.2L2657.1 1595.5L2654.6 1587.4L2652.7 1580.8L2650.4 1573.5L2648 1566.2L2645.6 1558.8L2643.6 1551.7L2642 1545.1L2641 1539.1L2640.5 1530.9L2640.5 1523.1L2641.3 1516L2642.8 1509.7L2645 1504.1L2648.3 1498.9L2652.6 1494L2657.7 1489.4L2663.5 1485.4L2669.7 1482.2L2675.1 1480.2L2681.2 1478.6L2687.9 1477.5L2694.9 1476.8L2702.1 1476.7L2709.4 1477L2715.7 1477.6L2722.4 1478.6L2729.2 1480L2736.1 1481.7L2742.9 1483.8L2749.6 1486.3L2756.2 1489.1L2761.9 1492L2767.8 1495.3L2773.7 1498.9L2779.5 1502.8L2785.1 1506.9L2790.3 1511.2L2795.1 1515.5L2799.2 1519.9L2803.5 1525.2L2807.4 1531L2811 1537.1L2814 1543.3L2816.6 1549.6L2818.7 1555.8L2820.2 1561.7L2821.2 1568.6L2821.6 1575.6L2821.2 1582.6L2820.3 1589.6L2818.7 1596.3L2816.6 1602.8L2813.9 1609.3L2810.5 1615.9L2806.5 1622.3L2802 1628.3L2797.1 1633.6L2791.9 1638.2L2787.2 1641.4L2781.7 1644.2L2775.7 1646.7L2769.1 1649L2762.2 1651L2755.2 1652.9L2748.3 1654.7L2741.6 1656.2L2734.6 1657.4L2727.4 1658.4L2720 1659.3L2712.7 1660.2L2705.5 1661.3L2698.7 1662.6L2689.9 1664.8L2681.3 1667L2673.2 1669.6L2665.7 1672.6L2658.8 1676.6L2652 1683L2647.1 1690.6L2643.8 1697.2L2641.6 1701.6L2650.4 1706.4L2652.9 1702L2656.1 1695.9L2660.2 1690L2665.2 1685.4L2670.3 1683L2676.9 1680.8L2684.4 1678.8L2692.7 1677L2701.3 1675.4L2707.5 1674.4L2714.3 1673.7L2721.4 1673.1L2728.9 1672.5L2736.5 1671.7L2744.2 1670.7L2751.7 1669.3L2758.9 1667.7L2766.2 1666L2773.6 1664.2L2781 1662L2788.3 1659.3L2795.4 1655.9L2802.1 1651.8L2809 1646.1L2815.2 1639.5L2820.8 1632.3L2825.8 1624.8L2830 1617L2833.4 1609.2L2836 1601.1L2838 1592.8L2839.1 1584.3L2839.6 1575.6L2839.1 1566.9L2837.8 1558.3L2836 1550.8L2833.5 1543.3L2830.4 1535.9L2826.8 1528.5L2822.6 1521.4L2818 1514.5L2812.8 1508.1L2807.7 1502.7L2802.1 1497.6L2796.1 1492.7L2789.9 1488.1L2783.4 1483.8L2776.9 1479.8L2770.3 1476.1L2763.8 1472.9L2756.4 1469.6L2748.7 1466.7L2741 1464.4L2733.2 1462.4L2725.5 1460.9L2718 1459.8L2710.6 1459L2702.2 1458.7L2693.8 1458.9L2685.5 1459.6L2677.4 1461L2669.7 1463L2662.3 1465.8L2654.2 1470L2646.6 1475.2L2639.7 1481.3L2633.8 1488.2L2629 1495.9L2625.6 1504.2L2623.5 1513L2622.6 1522.1L2622.5 1531.4L2623 1540.9L2624 1548.4L2625.5 1556.2L2627.5 1564L2629.7 1571.7L2631.8 1579.2L2633.8 1586.1L2635.4 1592.6L2637.5 1601.3L2639.8 1609.2L2641.5 1616L2642.3 1621.4L2642.1 1625.4L2641.1 1630.4L2638.9 1635L2634.9 1640.4L2629 1646.8L2625 1650.9L2619.4 1655.5L2612.9 1660.5L2606 1665.6L2599.3 1670.8L2593.3 1676.1L2588 1682.4L2583.5 1694.7L2584 1705.6L2585 1712.3Z" fill="#9aacaf" />
<circle cx="2590" cy="1712" r="5" fill="#9aacaf" />
<circle cx="2646" cy="1704" r="5" fill="#9aacaf" />
<path d="M2668 1730.5L2672.9 1730.4L2679.7 1730.2L2687.7 1730L2696.2 1729.9L2704.4 1730L2711.6 1730.5L2716.5 1731.2L2724.1 1734.8L2728.3 1739.7L2731.9 1745.9L2735.1 1754.2L2737.2 1763.9L2738.6 1770.9L2747.4 1769.1L2746 1762L2743.7 1751.7L2740.1 1742.1L2735.7 1734.5L2729.4 1727.5L2719.5 1722.8L2712.6 1721.5L2704.8 1721L2696.2 1720.9L2687.5 1721L2679.4 1721.2L2672.7 1721.5L2668 1721.5Z" fill="#a3b3b5" />
<circle cx="2668" cy="1726" r="4.5" fill="#a3b3b5" />
<circle cx="2743" cy="1770" r="4.5" fill="#a3b3b5" />
<path d="M2668 1727.4L2672.8 1727.4L2679.6 1727.2L2687.6 1727L2696.2 1726.8L2704.5 1727L2711.9 1727.4L2717.5 1728.4L2725.9 1732.3L2730.8 1737.9L2734.7 1744.6L2738 1753.4L2740.2 1763.2L2741.6 1770.3L2744.4 1769.7L2743 1762.6L2740.8 1752.6L2737.3 1743.4L2733.2 1736.2L2727.6 1730L2718.5 1725.6L2712.3 1724.6L2704.6 1724.1L2696.2 1724L2687.6 1724.1L2679.5 1724.3L2672.8 1724.5L2668 1724.6Z" fill="#dfe7e8" />
<circle cx="2668" cy="1726" r="1.4" fill="#dfe7e8" />
<circle cx="2743" cy="1770" r="1.4" fill="#dfe7e8" />
<path d="M2588.6 1741.4L2584 1745.7L2577.4 1752L2571.1 1758.9L2565.9 1766.5L2561.2 1774.3L2558.2 1779.7L2565.8 1784.3L2569.2 1779.2L2573.9 1771.9L2578.9 1765.1L2584.6 1759L2590.9 1752.9L2595.4 1748.6Z" fill="#9aacaf" />
<circle cx="2592" cy="1745" r="5" fill="#9aacaf" />
<circle cx="2562" cy="1782" r="4.5" fill="#9aacaf" />
<path d="M2578.6 1860.4L2581.7 1865.9L2586.2 1873.8L2591.1 1881.1L2596.3 1886.6L2601.4 1891L2604.8 1893.9L2611.2 1886.1L2607.8 1883.4L2603.2 1879.4L2598.9 1874.9L2594.7 1868.6L2590.4 1861L2587.4 1855.6Z" fill="#9aacaf" />
<circle cx="2583" cy="1858" r="5" fill="#9aacaf" />
<circle cx="2608" cy="1890" r="5" fill="#9aacaf" />
<path d="M2696.9 1878.7L2703.1 1877L2712.3 1874.3L2721.7 1869.9L2729.7 1862.9L2736.2 1855.3L2740.5 1850L2731.5 1842L2726.8 1846.8L2720.4 1853.3L2714.3 1858.1L2707.4 1861.1L2699.2 1863.6L2693.1 1865.3Z" fill="#9aacaf" />
<circle cx="2695" cy="1872" r="7" fill="#9aacaf" />
<circle cx="2736" cy="1846" r="6" fill="#9aacaf" />
<path d="M2525.1 1653.8L2519.1 1656.9L2510.7 1662.2L2503.6 1669.6L2501 1677.2L2499.8 1685.1L2499.9 1693.4L2501.3 1701.9L2505 1710L2510.1 1717.7L2515.1 1724.6L2518.6 1730.6L2521.7 1738.1L2523.7 1744.8L2524 1751.4L2522.5 1756.6L2519 1763.5L2515.4 1771.4L2514.1 1781L2518.5 1791.9L2525.5 1801L2530.4 1806.8L2539.6 1799.2L2534.9 1793.5L2528.9 1785.8L2525.9 1779L2526.8 1775.1L2529.8 1768.7L2533.6 1761L2536 1752.6L2535.5 1742.9L2533.1 1734.2L2529.4 1725.4L2525.1 1718L2520 1710.8L2515.5 1704.1L2512.7 1698.1L2511.3 1692.1L2510.8 1685.5L2511.3 1679.3L2512.4 1674.4L2516.1 1667.6L2522.4 1661.1L2526.9 1656.2Z" fill="#9aacaf" />
<circle cx="2526" cy="1655" r="1.5" fill="#9aacaf" />
<circle cx="2535" cy="1803" r="6" fill="#9aacaf" />
<path d="M2538.1 1861.4L2533.8 1865.1L2527.3 1870.6L2520.4 1877.6L2515.4 1885.9L2513.8 1895.1L2514.3 1904.4L2516 1913.4L2518.4 1922.1L2522.2 1930.3L2527.2 1937.5L2531.2 1943.8L2533.3 1949.5L2533.8 1955.8L2533.3 1962.8L2531.6 1969.9L2528.7 1977L2525.8 1981L2521.5 1985.5L2516.3 1990.3L2510.6 1995.5L2505.1 2001.2L2500.5 2007.6L2496.2 2015.4L2492.7 2023.6L2489.8 2032.1L2487.7 2040.8L2486.5 2049.6L2486.8 2058.7L2488.2 2067.9L2490.3 2076.7L2492.6 2084.8L2494.8 2091.8L2498.8 2100.3L2503.1 2106.4L2506.9 2111.7L2511.1 2117.6L2515.1 2123.4L2518.2 2127.2L2519 2126.8L2517.8 2122L2515.5 2115.4L2513.1 2108.3L2510.3 2102.2L2507.5 2096.2L2505.2 2088.2L2503.6 2081.8L2501.8 2074L2500.2 2065.9L2499.4 2057.8L2499.5 2050.4L2500.5 2043.2L2502.3 2035.8L2504.8 2028.3L2507.9 2021.1L2511.5 2014.4L2515.1 2009.6L2519.7 2004.8L2525.1 1999.9L2530.6 1994.8L2535.9 1989.3L2540.1 1983L2544 1974L2546.2 1964.8L2546.8 1955.7L2545.9 1946.5L2542.5 1937.9L2537.5 1930.5L2532.8 1924.1L2529.6 1917.9L2527.6 1910.7L2526.2 1902.9L2525.8 1895.7L2526.6 1890.1L2529.8 1885L2535.4 1879.4L2541.5 1874.3L2545.9 1870.6Z" fill="#9aacaf" />
<circle cx="2542" cy="1866" r="6" fill="#9aacaf" />
<path d="M2656.5 1898L2654.9 1900.4L2652.6 1903.8L2647.2 1908.5L2642.5 1911.1L2635.9 1914.4L2628.3 1918.1L2620.6 1922.3L2613.4 1926.9L2607.3 1932.2L2601.7 1940.6L2598.2 1949.9L2596.8 1959.6L2597.7 1969.4L2600.8 1977.7L2605.7 1985.4L2611.2 1992.6L2616.4 1999.2L2620.5 2005.5L2625.2 2013L2629.6 2019.9L2632.5 2026L2633.5 2032.2L2632.7 2037.6L2630.6 2044.2L2627.5 2051.6L2623.7 2059.4L2620.1 2067.2L2617 2073.8L2613.4 2080.6L2609.5 2087.6L2605.7 2094.6L2602.4 2101.4L2599.8 2108.1L2596.9 2119.1L2596.2 2129.4L2598.4 2139.3L2602.2 2147L2607.4 2154.1L2614.3 2160.7L2622.5 2166.1L2629.3 2169.3L2636.7 2172.2L2644.7 2174.6L2653.1 2176.6L2661.6 2178L2669.9 2178.5L2677.9 2178.3L2686.1 2177.5L2694.3 2176L2702.5 2173.7L2710.5 2170.5L2718 2166.3L2724.3 2161.6L2730.2 2156.2L2735.9 2150.2L2741.2 2143.8L2746 2137L2750.5 2130.2L2754.4 2123.5L2757.8 2116.6L2760.8 2109.6L2763.4 2102.3L2765.5 2094.9L2767.2 2087.5L2768.5 2080L2769.2 2072.5L2769.4 2064.8L2769.1 2057L2768.2 2049.3L2767 2041.6L2765.5 2034.1L2763.7 2026.9L2761.7 2019.9L2758.9 2012.3L2755.6 2005L2752 1998.1L2748.2 1991.5L2744.2 1985.1L2740.1 1978.8L2735.5 1972.5L2730.6 1966.4L2725.6 1960.5L2720.6 1954.8L2715.8 1949.2L2711.2 1943.7L2705.7 1936.5L2699.9 1928.9L2694.4 1921.7L2689.7 1915.5L2686.2 1911.2L2683.8 1912.8L2686.4 1917.7L2690.3 1924.4L2694.9 1932.3L2699.9 1940.5L2704.8 1948.3L2708.9 1954.5L2713.3 1960.6L2717.8 1966.7L2722.1 1972.8L2726.2 1979L2729.9 1985.2L2733.6 1991.5L2737.2 1997.8L2740.5 2004.1L2743.5 2010.6L2746.1 2017.2L2748.3 2024.1L2750.1 2030.4L2751.7 2037.1L2753 2044.1L2754.1 2051.1L2754.7 2058.1L2755 2064.9L2754.8 2071.5L2754.1 2078.1L2753 2084.7L2751.5 2091.3L2749.6 2097.9L2747.3 2104.3L2744.7 2110.5L2741.6 2116.5L2738.1 2122.6L2734 2128.7L2729.6 2134.7L2724.8 2140.4L2719.8 2145.6L2714.8 2150.1L2710 2153.7L2704 2157L2697.7 2159.5L2691 2161.4L2684 2162.6L2677 2163.3L2670.1 2163.5L2663.2 2163.2L2655.8 2162.2L2648.4 2160.6L2641.2 2158.6L2634.7 2156.2L2629.5 2153.9L2623 2149.7L2617.9 2144.9L2614.1 2139.6L2611.6 2134.7L2609.8 2128.2L2610 2121.2L2612.2 2111.9L2614.3 2106.7L2617.3 2100.5L2620.9 2093.8L2624.8 2086.8L2628.6 2079.6L2631.9 2072.8L2635.5 2064.9L2639.3 2057L2642.8 2048.8L2645.4 2040.5L2646.5 2031.8L2644.9 2022.1L2640.9 2013.6L2636.2 2006.1L2631.5 1998.5L2626.9 1991.6L2621.5 1984.6L2616.3 1977.9L2612.4 1971.8L2610.3 1966.6L2609.6 1959.8L2610.3 1952.9L2612.7 1946.1L2616.7 1939.8L2620.5 1935.9L2626.4 1931.6L2633.4 1927.4L2640.7 1923.2L2647.3 1919.3L2652.8 1915.5L2659 1909.6L2662 1904.9L2663.5 1902Z" fill="#9aacaf" />
<circle cx="2660" cy="1900" r="4" fill="#9aacaf" />
<circle cx="2685" cy="1912" r="1.5" fill="#9aacaf" />
<path d="M2773.1 1785.9L2776.8 1783.1L2781.7 1779.1L2787.3 1774.5L2793.5 1769.6L2800 1764.8L2806.5 1760.6L2812.7 1757.4L2818.8 1754.8L2825.3 1752.6L2831.9 1750.7L2838.8 1749.1L2845.9 1747.8L2853.2 1746.8L2860.8 1746L2867.6 1745.5L2874.9 1745.1L2882.3 1745L2889.9 1745.1L2897.5 1745.5L2904.9 1746L2912 1746.8L2918.7 1747.9L2926.1 1749.4L2933.3 1751.2L2940.3 1753.3L2947 1755.7L2953.4 1758.4L2959.6 1761.4L2965.4 1764.8L2971 1768.6L2976.5 1772.9L2981.7 1777.5L2986.6 1782.4L2991.2 1787.5L2995.3 1792.8L2998.9 1798.2L3002 1803.8L3004.8 1809.8L3007.3 1816.3L3009.5 1822.9L3011.4 1829.7L3013 1836.5L3014.3 1842.9L3015.7 1849.9L3016.5 1856.2L3017 1862.4L3017 1868.7L3016.7 1875.8L3016 1884L3015.5 1890.1L3014.8 1896.8L3013.9 1903.9L3012.9 1911.2L3011.6 1918.5L3010.2 1925.8L3008.6 1932.8L3006.8 1939.3L3004.8 1945.2L3002.6 1951.7L3000 1958L2997.2 1964.1L2994.1 1970L2990.8 1975.7L2987.1 1981.3L2983.2 1986.7L2979 1992L2974.5 1997.3L2969.5 2002.5L2964.1 2007.6L2958.4 2012.6L2952.6 2017.3L2946.8 2021.7L2940.9 2025.7L2935.3 2029.2L2928.7 2032.7L2921.9 2035.8L2915 2038.5L2908.3 2040.6L2902 2042.2L2896.1 2043L2890.9 2043L2885 2042.2L2879.3 2040.4L2873.7 2037.7L2868.3 2034.2L2863 2029.8L2858.1 2024.8L2854.2 2019.9L2850.6 2014.1L2847 2007.6L2843.7 2000.5L2840.6 1993.1L2837.8 1985.4L2835.2 1977.8L2833.2 1971.1L2831.6 1964.2L2830.1 1957L2828.9 1949.5L2827.7 1941.9L2826.5 1934.2L2825.3 1926.4L2823.9 1918.8L2822.6 1911.2L2821.4 1903.4L2820.2 1895.3L2819 1887.3L2817.7 1879.3L2816.1 1871.6L2814.3 1864.4L2812 1857.5L2807.6 1848.4L2802.3 1840.5L2796.7 1833.9L2791.2 1828.3L2785.8 1823.3L2776.6 1817.2L2767.8 1813.5L2761.9 1811.4L2758.1 1820.6L2763.5 1823.2L2770.8 1827L2778.2 1832.7L2782.6 1837L2787.5 1842.2L2792.2 1848L2796.4 1854.6L2800 1862.5L2801.7 1867.9L2803.2 1874.4L2804.5 1881.6L2805.6 1889.2L2806.7 1897.2L2807.7 1905.3L2808.9 1913.4L2810.1 1921.2L2811.3 1928.7L2812.4 1936.3L2813.4 1944L2814.5 1951.7L2815.7 1959.5L2817.1 1967.2L2818.8 1974.8L2820.8 1982.2L2823.5 1990.4L2826.4 1998.6L2829.6 2006.6L2833.1 2014.5L2836.9 2022L2841.2 2028.9L2845.9 2035.2L2851.7 2041.6L2858.1 2047.3L2865 2052.3L2872.5 2056.3L2880.6 2059.3L2889.1 2061L2897 2061.2L2905 2060.5L2913 2058.9L2921.1 2056.6L2929.2 2053.8L2937 2050.5L2944.7 2046.8L2951.5 2043.3L2958.4 2039.2L2965.3 2034.7L2972.1 2029.9L2978.7 2024.7L2985.2 2019.3L2991.3 2013.7L2997 2008L3002.2 2002.2L3007.2 1996.1L3011.9 1989.9L3016.4 1983.4L3020.5 1976.7L3024.4 1969.7L3027.9 1962.4L3031.2 1954.8L3033.6 1947.4L3035.7 1939.6L3037.6 1931.6L3039.2 1923.5L3040.5 1915.5L3041.7 1907.6L3042.6 1900L3043.4 1892.8L3044 1886L3044.4 1877L3044.4 1868.5L3043.9 1860.5L3043 1852.7L3041.5 1845L3039.7 1837.1L3037.6 1829.9L3035.2 1822.5L3032.4 1815L3029.3 1807.4L3025.7 1799.9L3021.7 1792.6L3017.1 1785.8L3012.1 1779.5L3006.6 1773.5L3000.7 1767.9L2994.6 1762.6L2988.1 1757.7L2981.4 1753.2L2974.6 1749.2L2967.6 1745.6L2960.3 1742.4L2952.9 1739.6L2945.2 1737.2L2937.4 1735.1L2929.4 1733.5L2921.3 1732.1L2913.8 1731.2L2906.1 1730.6L2898.1 1730.2L2890.1 1730.1L2882.1 1730.3L2874.2 1730.6L2866.5 1731.2L2859.2 1732L2851.3 1733.2L2843.5 1734.6L2835.9 1736.3L2828.5 1738.3L2821.3 1740.7L2814.2 1743.4L2807.3 1746.6L2800.3 1750.7L2793.3 1755.6L2786.6 1760.9L2780.3 1766.2L2774.8 1771.1L2770.2 1775.2L2766.9 1778.1Z" fill="#9aacaf" />
<circle cx="2770" cy="1782" r="5" fill="#9aacaf" />
<circle cx="2760" cy="1816" r="5" fill="#9aacaf" />
<path d="M3269.6 1840.3L3263.8 1838.1L3255.8 1835.4L3247.8 1831.5L3241.3 1825.8L3238.7 1821.7L3235.9 1816L3233.2 1809.4L3230.6 1802.1L3227.9 1794.4L3225.3 1786.8L3222.5 1779.4L3219.9 1772.4L3217.6 1765.1L3215.2 1757.4L3212.7 1749.8L3209.9 1742.2L3206.5 1734.9L3202.4 1728.2L3196.9 1721.5L3190.7 1715.4L3184.1 1710.1L3177 1705.6L3169.7 1702L3162.2 1699.3L3153.2 1697.4L3143.7 1696.8L3133.9 1697.7L3124.3 1700.2L3115.1 1704.3L3108.2 1708.1L3101.6 1712.7L3095.3 1718.1L3089.1 1724.1L3083.3 1730.6L3077.8 1737.6L3072.8 1744.9L3068.8 1751.7L3065.2 1758.9L3061.8 1766.3L3058.7 1774.1L3056 1782.1L3053.4 1790.2L3051.2 1798.6L3049.2 1807.1L3048 1814.4L3047.1 1821.9L3046.4 1829.6L3045.9 1837.3L3045.6 1844.9L3045.3 1852.5L3045.2 1860L3045.1 1867.2L3045 1874L3045 1880.6L3045.5 1889.5L3046.2 1898.3L3047 1907L3048 1915.4L3049.2 1923.6L3050.6 1931.5L3052.5 1939.4L3056 1949.1L3060 1958.2L3064.5 1966.4L3069.4 1973.9L3074.7 1980.6L3081.8 1987.9L3089.7 1994.5L3098.7 1999.9L3108.3 2003.3L3116.6 2005.4L3125.2 2006.6L3134.4 2006.6L3144 2005.1L3153.1 2001.9L3159.7 1998.4L3166 1994.2L3172.2 1989.3L3178.2 1983.8L3184.2 1977.8L3189.9 1971.3L3195.5 1964.3L3199.9 1958.2L3204.1 1951.3L3208.2 1944L3212.2 1936.5L3216.1 1928.9L3219.8 1921.6L3223.4 1914.7L3226.8 1908.5L3230 1903.3L3235.3 1895.4L3240 1889.1L3244.2 1884L3248.4 1880L3252.6 1876.9L3259.3 1874L3267.3 1872.5L3275 1871.7L3280.5 1871L3279.5 1861L3274 1861.5L3265.9 1862L3256.4 1863.6L3247.4 1867.1L3241.3 1871.3L3236 1876.1L3231 1881.8L3225.8 1888.6L3220 1896.7L3216.3 1902.3L3212.5 1908.7L3208.7 1915.6L3204.7 1922.9L3200.7 1930.3L3196.6 1937.5L3192.5 1944.3L3188.5 1950.4L3184.5 1955.7L3179.1 1961.7L3173.6 1967.4L3168 1972.5L3162.4 1977L3156.9 1980.9L3151.6 1983.9L3146.9 1986.1L3140.2 1987.9L3133.6 1988.4L3127.1 1987.9L3120.9 1986.5L3115.7 1984.7L3110.6 1980.9L3106.6 1976.1L3102.9 1970.3L3099.3 1963.4L3096.7 1957.8L3094.3 1951.8L3092.4 1945.4L3090.7 1938.4L3089.5 1930.6L3088.6 1924.9L3088 1918.5L3087.5 1911.6L3087.2 1904.2L3087 1896.3L3087 1888.1L3087 1879.4L3086.6 1873.1L3086.3 1866.4L3086 1859.5L3085.7 1852.5L3085.6 1845.4L3085.5 1838.5L3085.6 1831.6L3085.8 1825L3086.2 1818.8L3086.8 1812.9L3087.5 1805.5L3088.6 1798.2L3089.8 1791L3091.3 1784L3092.9 1777.3L3094.8 1770.9L3096.9 1764.8L3099.2 1759.1L3102.1 1752.7L3105.5 1746.3L3109.1 1740.2L3113.1 1734.6L3117.1 1729.5L3121.2 1725.1L3124.9 1721.7L3131.1 1718.5L3137.6 1716.5L3144.3 1715.6L3151.1 1715.7L3157.8 1716.7L3163.1 1718.3L3168.8 1720.8L3174.4 1724.1L3179.9 1728.1L3185.1 1732.7L3189.6 1737.8L3192.8 1742.6L3195.8 1748.4L3198.5 1755L3201.2 1762.2L3203.8 1769.7L3206.5 1777.3L3209.5 1784.6L3212.5 1791.6L3215.3 1799.1L3218.2 1806.7L3221.3 1814.2L3224.6 1821.4L3228.2 1828L3232.7 1834.2L3241.7 1841.3L3251.8 1845.6L3260.6 1848.1L3266.4 1849.7Z" fill="#9aacaf" />
<circle cx="3268" cy="1845" r="5" fill="#9aacaf" />
<circle cx="3280" cy="1866" r="5" fill="#9aacaf" />
<path d="M3358.8 1735.2L3354.9 1733.2L3349.8 1730.8L3343.6 1728L3336.8 1724.8L3329.5 1721.5L3322.1 1718L3314.8 1714.4L3308 1710.9L3301.8 1707.5L3295.3 1703.8L3288.7 1700.3L3282.3 1696.7L3276.2 1693.1L3270.4 1689.4L3265 1685.4L3260.1 1681.2L3255.7 1676.7L3251.1 1670.9L3246.9 1664.5L3243 1657.5L3239.7 1650.3L3236.8 1643L3234.6 1635.9L3232.9 1629.1L3231.8 1621.2L3231.5 1613.3L3231.9 1605.5L3233 1597.8L3234.8 1590.6L3237.1 1584L3239.9 1577.9L3243.3 1572.1L3247.3 1566.8L3252 1561.8L3257.5 1557.1L3263.9 1552.7L3269.4 1549.6L3275.8 1546.7L3282.8 1544L3290.3 1541.4L3298 1539.1L3305.9 1536.9L3313.6 1535L3321.1 1533.4L3328.5 1531.9L3336 1530.7L3343.6 1529.6L3351.2 1528.8L3358.6 1528.2L3365.9 1528L3372.9 1528.1L3379.5 1528.5L3387 1529.3L3394.4 1530.5L3401.6 1532.1L3408.3 1534.1L3414.5 1536.4L3420 1539.2L3424.5 1542.2L3429 1546.6L3432.7 1551.6L3435.8 1557.4L3438.3 1563.8L3440.2 1570.7L3441.6 1577.8L3442.2 1584.1L3442.3 1590.8L3442 1597.9L3441.2 1605.3L3440 1613L3438.5 1620.8L3436.7 1628.6L3435 1634.9L3432.8 1641.5L3430.4 1648.3L3427.6 1655.3L3424.8 1662.3L3421.9 1669.2L3419.1 1675.9L3416.6 1682.3L3414.3 1688.2L3411.4 1696.4L3408.8 1704L3406.4 1711.1L3404.2 1717.5L3402.4 1723.4L3400.7 1728.7L3398.3 1737.1L3396.9 1743.1L3396.1 1747L3403.9 1749L3405 1745.2L3406.6 1739.5L3409.3 1731.3L3411.1 1726.3L3413.1 1720.5L3415.4 1714.2L3417.9 1707.2L3420.7 1699.8L3423.7 1691.8L3426 1686.1L3428.6 1679.8L3431.4 1673.2L3434.4 1666.3L3437.4 1659.3L3440.3 1652.1L3443 1645L3445.4 1638.1L3447.3 1631.4L3449.2 1623.1L3450.9 1614.9L3452.1 1606.8L3453 1598.8L3453.3 1591L3453.2 1583.4L3452.4 1576.2L3450.9 1568.2L3448.7 1560.3L3445.8 1552.8L3442 1545.8L3437.3 1539.3L3431.5 1533.8L3425.6 1529.7L3419 1526.3L3411.8 1523.6L3404.3 1521.4L3396.5 1519.7L3388.5 1518.4L3380.5 1517.5L3373.3 1517.1L3365.8 1517L3358 1517.3L3350.2 1517.8L3342.3 1518.7L3334.4 1519.8L3326.5 1521.1L3318.9 1522.6L3311.1 1524.3L3303.1 1526.3L3295 1528.5L3286.9 1531L3279 1533.7L3271.5 1536.6L3264.5 1539.8L3258.1 1543.3L3250.8 1548.3L3244.4 1553.8L3238.8 1559.7L3234.1 1566.1L3230.2 1572.8L3226.9 1580L3224.4 1587.7L3222.5 1595.9L3221.5 1604.5L3221.2 1613.4L3221.7 1622.2L3223.1 1630.9L3224.9 1638.6L3227.4 1646.4L3230.5 1654.2L3234.1 1662.1L3238.3 1669.6L3243 1676.8L3248.3 1683.3L3253.5 1688.4L3259.2 1693L3265.3 1697.1L3271.6 1700.9L3278.1 1704.4L3284.8 1707.8L3291.4 1711.1L3298.2 1714.5L3304.6 1717.6L3311.8 1720.8L3319.4 1724L3327 1727.2L3334.5 1730.2L3341.6 1732.9L3347.9 1735.3L3353.2 1737.3L3357.2 1738.8Z" fill="#9aacaf" />
<circle cx="3358" cy="1737" r="2" fill="#9aacaf" />
<circle cx="3400" cy="1748" r="4" fill="#9aacaf" />
<path d="M3346.6 1758.2L3340.8 1759.6L3332.2 1761.6L3322.7 1764.6L3314.1 1769.4L3308.4 1777L3304.6 1785.5L3302 1793.1L3300.3 1798.2L3309.7 1801.8L3311.9 1796.8L3314.7 1789.8L3318.1 1783L3321.9 1778.6L3327.3 1775.7L3335.4 1773.2L3343.6 1771.3L3349.4 1769.8Z" fill="#9aacaf" />
<circle cx="3348" cy="1764" r="6" fill="#9aacaf" />
<circle cx="3305" cy="1800" r="5" fill="#9aacaf" />
<path d="M3431.8 1771.6L3433.8 1776.9L3436.8 1784.3L3439.7 1792.3L3441.6 1798.8L3442.2 1806.1L3441.9 1812.8L3441.5 1817.7L3450.5 1818.3L3450.9 1813.4L3451.2 1805.9L3450.4 1797.2L3448.2 1789.5L3445.2 1781.2L3442.2 1773.6L3440.2 1768.4Z" fill="#9aacaf" />
<circle cx="3436" cy="1770" r="4.5" fill="#9aacaf" />
<circle cx="3446" cy="1818" r="4.5" fill="#9aacaf" />
<path d="M3311.3 1883.3L3314.7 1887.4L3318.9 1892.6L3320.5 1896.3L3319.2 1901.1L3315.6 1908.2L3312.7 1913.5L3321.3 1918.5L3324.6 1913.2L3329.1 1905.1L3331.5 1895.7L3327.9 1887L3322.5 1880.6L3318.7 1876.7Z" fill="#9aacaf" />
<circle cx="3315" cy="1880" r="5" fill="#9aacaf" />
<circle cx="3317" cy="1916" r="5" fill="#9aacaf" />
<path d="M3413.2 1891.7L3409.3 1896.2L3403.6 1902.7L3397.5 1910.2L3392.5 1917.9L3389.3 1927.6L3387.9 1936.6L3386.4 1943.1L3383.4 1947.6L3379.5 1951.5L3376.5 1954.4L3383.5 1961.6L3386.6 1958.6L3391.2 1953.8L3395.6 1946.9L3397.8 1938.5L3399 1929.9L3401.5 1922.1L3405.5 1916.1L3411.2 1909.2L3416.8 1902.8L3420.8 1898.3Z" fill="#9aacaf" />
<circle cx="3417" cy="1895" r="5" fill="#9aacaf" />
<circle cx="3380" cy="1958" r="5" fill="#9aacaf" />
<path d="M3520 1688.3L3514 1690.5L3505.5 1694.1L3496 1698.9L3487.7 1704.8L3481.6 1712.2L3476.4 1720.3L3472.3 1729.2L3469.6 1739L3469.3 1748L3470.6 1757L3472.3 1765.4L3473.6 1773L3473.6 1779.1L3471.7 1786.3L3468.4 1793.5L3464.4 1800.5L3460.8 1807L3456.6 1814.5L3452.7 1820.5L3450 1824.7L3460 1831.3L3462.8 1827L3466.8 1820.6L3471.2 1813L3475 1806.7L3479.5 1799.3L3483.7 1790.7L3486.4 1780.9L3486.5 1772L3485.1 1763.1L3483.4 1754.7L3482.3 1747.2L3482.4 1741L3484.3 1733.5L3487.5 1726.1L3491.6 1719.2L3496.3 1713.2L3502 1707L3509.5 1701L3517 1695.8L3522 1691.7Z" fill="#9aacaf" />
<circle cx="3521" cy="1690" r="2" fill="#9aacaf" />
<circle cx="3455" cy="1828" r="6" fill="#9aacaf" />
<path d="M3434 1900.4L3434.3 1906L3434.6 1914.1L3435.2 1923.6L3436.5 1933.4L3439 1942.4L3442.9 1950L3447.8 1956.4L3452.9 1962L3457.8 1967.3L3462.2 1972.8L3467.1 1978.9L3472.3 1985.2L3477 1991.3L3480.4 1996.9L3482.3 2002L3483 2007.5L3483 2013.4L3481.9 2019.3L3479.9 2024.9L3476.7 2030.1L3473.8 2033L3469 2036.3L3463 2039.7L3456.3 2043.3L3449.3 2047.1L3442.5 2051.6L3436.6 2056.8L3431.2 2063.3L3426.6 2070.3L3422.6 2077.5L3419.3 2084.8L3416.8 2091.9L3415.1 2099.1L3415.3 2108.9L3417.8 2117.7L3421.1 2125.3L3424.4 2132L3430 2140.4L3436 2147.6L3440.6 2152.3L3441.4 2151.7L3439.4 2145.6L3436.2 2137.1L3433.6 2128L3431.4 2121.2L3429.2 2114.3L3428.2 2107.6L3428.9 2100.9L3430.3 2096.1L3432.5 2090.3L3435.4 2084.1L3439 2078L3443 2072.3L3447.4 2067.2L3451.6 2063.7L3457.1 2060.3L3463.5 2056.9L3470.4 2053.4L3477.3 2049.7L3483.7 2045.3L3489.3 2039.9L3494.2 2032L3497.4 2023.5L3498.9 2014.9L3499 2006.4L3497.7 1998L3494.5 1989.8L3489.7 1982.3L3484.2 1975.5L3478.8 1969.2L3473.8 1963.2L3468.6 1957.4L3463.1 1952.1L3458.1 1947.3L3454 1942.6L3451 1937.6L3449 1930.8L3447.7 1922.3L3447 1913.3L3446.5 1905.3L3446 1899.6Z" fill="#9aacaf" />
<circle cx="3440" cy="1900" r="6" fill="#9aacaf" />
<path d="M3316.2 1943.8L3315 1947.5L3313.3 1953.3L3312 1961.7L3312.1 1968.9L3312.9 1977.2L3313.5 1985.7L3313.5 1993.2L3312.4 1998.3L3308.4 2003.5L3302 2006.7L3290.9 2009.6L3285.4 2010.5L3278.7 2011.1L3271 2011.5L3262.7 2011.8L3254.2 2012.3L3245.8 2012.9L3237.7 2014L3230.4 2015.7L3221.8 2018.7L3213.6 2022.2L3205.8 2026.3L3198.7 2031L3192.4 2036.4L3187.1 2042.6L3183 2049.7L3180.1 2057.5L3178.2 2065.7L3177.2 2074.1L3176.8 2082.3L3177 2090.4L3177.8 2098.3L3179.3 2106.3L3181.5 2114.2L3184.3 2122.2L3187.8 2130L3191.7 2137.8L3195 2143.8L3198.6 2149.9L3202.6 2156.1L3206.9 2162.4L3211.6 2168.5L3216.8 2174.3L3222.4 2179.8L3228.4 2184.8L3235 2189.3L3242.2 2193.5L3249.8 2197.4L3257.8 2201L3265.8 2204.1L3273.9 2206.6L3281.7 2208.6L3289.3 2210L3297.5 2210.6L3305.7 2210.3L3313.6 2209.3L3321.3 2207.5L3328.7 2205.3L3335.8 2202.5L3342.7 2199.4L3349.4 2195.7L3356.1 2191.4L3362.5 2186.6L3368.6 2181.4L3374.3 2175.7L3379.5 2169.6L3384.1 2163.2L3387.9 2156.4L3391.2 2149L3393.9 2141.4L3396 2133.5L3397.7 2125.7L3398.9 2117.9L3399.5 2110.3L3399.5 2101.5L3398.8 2092.6L3397.4 2083.8L3395.4 2075.3L3392.7 2067.2L3389.5 2059.7L3385.3 2052.9L3380.1 2046.8L3374.6 2041.4L3369 2036.5L3363.7 2032L3359.1 2027.7L3352.4 2021.8L3346.1 2016.8L3341 2012.4L3337.6 2008.2L3335.1 2001.1L3334.6 1993.5L3334.9 1986.6L3336.6 1981L3339.3 1975.8L3341.5 1972L3334.5 1968L3332.3 1971.9L3329.1 1978L3327.1 1985.4L3326.6 1993.6L3327.3 2002.7L3330.4 2011.8L3335 2018L3340.6 2023.3L3346.7 2028.4L3352.9 2034.3L3357.6 2038.8L3362.8 2043.5L3368.1 2048.3L3373 2053.3L3377.2 2058.6L3380.5 2064.3L3383.2 2070.7L3385.4 2078L3387.1 2085.8L3388.2 2093.8L3388.7 2101.8L3388.5 2109.7L3387.8 2116.5L3386.6 2123.6L3385 2130.7L3382.9 2137.8L3380.3 2144.6L3377.3 2151L3373.9 2156.8L3370.1 2162.2L3365.5 2167.5L3360.5 2172.6L3355 2177.3L3349.2 2181.6L3343.3 2185.4L3337.3 2188.6L3331.2 2191.5L3324.8 2193.9L3318.2 2195.9L3311.5 2197.4L3304.7 2198.3L3297.8 2198.6L3290.7 2198L3284.2 2196.9L3277.2 2195.1L3269.8 2192.8L3262.4 2189.9L3255 2186.6L3248 2183L3241.4 2179.2L3235.6 2175.2L3230.4 2170.9L3225.5 2166.1L3220.9 2160.9L3216.6 2155.3L3212.6 2149.5L3208.9 2143.6L3205.4 2137.8L3202.3 2132.2L3198.6 2124.9L3195.5 2117.8L3193 2110.6L3191 2103.6L3189.7 2096.6L3189 2089.6L3188.8 2082.4L3189.1 2075.1L3190 2067.8L3191.6 2060.9L3193.9 2054.8L3196.9 2049.4L3200.8 2044.7L3205.8 2040.2L3211.8 2036.1L3218.5 2032.4L3225.9 2029.1L3233.6 2026.3L3239.8 2024.6L3247.1 2023.4L3255 2022.5L3263.3 2021.8L3271.6 2021.2L3279.5 2020.6L3286.7 2019.7L3293.1 2018.4L3305.1 2014.8L3313.8 2009.9L3319.6 2001.7L3321.4 1994L3321.5 1985.4L3320.9 1976.5L3320.1 1968.4L3320 1962.3L3321.1 1955L3322.6 1949.8L3323.8 1946.2Z" fill="#9aacaf" />
<circle cx="3320" cy="1945" r="4" fill="#9aacaf" />
<circle cx="3338" cy="1970" r="4" fill="#9aacaf" />
<circle cx="2602.7" cy="1727.7" r="21.5" fill="#1a62ee"/>
<circle cx="2648.7" cy="1725" r="21.5" fill="#1a62ee"/>
<path d="M2600.7 1727.8L2650.7 1724.9" stroke="#0b0b8a" stroke-width="20" fill="none"/>
<circle cx="2750" cy="1787" r="21.5" fill="#1a62ee"/>
<circle cx="2746" cy="1832" r="21.5" fill="#1a62ee"/>
<path d="M2750.2 1785L2745.8 1834" stroke="#0b0b8a" stroke-width="20" fill="none"/>
<circle cx="2632" cy="1888" r="21.5" fill="#1a62ee"/>
<circle cx="2675" cy="1878" r="21.5" fill="#1a62ee"/>
<path d="M2630.1 1888.5L2676.9 1877.5" stroke="#0b0b8a" stroke-width="20" fill="none"/>
<circle cx="2555" cy="1808" r="23" fill="#ff22ff"/>
<circle cx="2560" cy="1852" r="23" fill="#ff22ff"/>
<path d="M2554.8 1806L2560.2 1854" stroke="#e8187c" stroke-width="20" fill="none"/>
<circle cx="2996" cy="1890.5" r="36.8" fill="#9ff016" stroke="#2fa312" stroke-width="7.5"/>
<circle cx="3078" cy="1891" r="36.8" fill="#9ff016" stroke="#2fa312" stroke-width="7.5"/>
<path d="M2995 1890.5L3079 1891" stroke="#27a51b" stroke-width="21" fill="none"/>
<circle cx="3369.4" cy="1761" r="21.5" fill="#1a62ee"/>
<circle cx="3416.3" cy="1756" r="21.5" fill="#1a62ee"/>
<path d="M3367.4 1761.2L3418.3 1755.8" stroke="#0b0b8a" stroke-width="20" fill="none"/>
<circle cx="3301.8" cy="1823.7" r="22.3" fill="#1a62ee"/>
<circle cx="3292.4" cy="1866.9" r="22.3" fill="#1a62ee"/>
<path d="M3302.2 1821.7L3292 1868.9" stroke="#0b0b8a" stroke-width="20" fill="none"/>
<circle cx="3322.4" cy="1936.3" r="22.5" fill="#1a62ee"/>
<circle cx="3360" cy="1958.9" r="22.5" fill="#1a62ee"/>
<path d="M3320.7 1935.3L3361.7 1959.9" stroke="#0b0b8a" stroke-width="20" fill="none"/>
<circle cx="3444.5" cy="1836.8" r="22.5" fill="#ff22ff"/>
<circle cx="3435" cy="1880" r="22.5" fill="#ff22ff"/>
<path d="M3444.9 1834.8L3434.6 1882" stroke="#e8187c" stroke-width="20" fill="none"/>
</svg>
</body></html>
